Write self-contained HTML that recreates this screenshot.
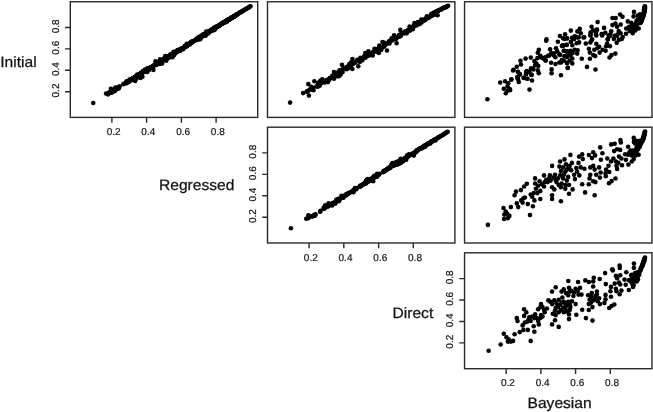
<!DOCTYPE html>
<html><head><meta charset="utf-8"><title>Scatterplot matrix</title>
<style>
html,body{margin:0;padding:0;background:#fff;}
body{width:653px;height:412px;overflow:hidden;}
svg text{text-rendering:geometricPrecision;font-family:"Liberation Sans",Arial,Helvetica,sans-serif;fill:#111;stroke:#111;stroke-width:0.25px;}
.t{font-size:10px;stroke-width:0.2px;}
.l{font-size:15px;}
</style></head><body>
<svg width="653" height="412" viewBox="0 0 653 412" style="display:block">
<rect width="653" height="412" fill="#fff"/>
<g fill="#000"><circle cx="93.2" cy="103.0" r="2.3"/><circle cx="127.4" cy="82.5" r="2.3"/><circle cx="123.4" cy="84.3" r="2.3"/><circle cx="127.0" cy="82.5" r="2.3"/><circle cx="126.3" cy="83.1" r="2.3"/><circle cx="126.6" cy="81.3" r="2.3"/><circle cx="131.1" cy="79.9" r="2.3"/><circle cx="135.1" cy="80.9" r="2.3"/><circle cx="129.3" cy="81.0" r="2.3"/><circle cx="130.0" cy="79.8" r="2.3"/><circle cx="132.6" cy="79.2" r="2.3"/><circle cx="131.1" cy="79.6" r="2.3"/><circle cx="131.4" cy="79.8" r="2.3"/><circle cx="126.3" cy="83.2" r="2.3"/><circle cx="129.8" cy="80.8" r="2.3"/><circle cx="123.7" cy="83.7" r="2.3"/><circle cx="126.2" cy="82.8" r="2.3"/><circle cx="119.5" cy="86.2" r="2.3"/><circle cx="116.5" cy="89.1" r="2.3"/><circle cx="117.2" cy="87.9" r="2.3"/><circle cx="115.5" cy="87.6" r="2.3"/><circle cx="116.6" cy="88.8" r="2.3"/><circle cx="117.8" cy="88.7" r="2.3"/><circle cx="118.5" cy="88.0" r="2.3"/><circle cx="115.2" cy="89.4" r="2.3"/><circle cx="116.3" cy="89.1" r="2.3"/><circle cx="113.5" cy="90.6" r="2.3"/><circle cx="115.7" cy="89.1" r="2.3"/><circle cx="110.2" cy="92.6" r="2.3"/><circle cx="114.7" cy="90.1" r="2.3"/><circle cx="118.0" cy="87.9" r="2.3"/><circle cx="115.2" cy="89.5" r="2.3"/><circle cx="116.9" cy="88.5" r="2.3"/><circle cx="108.2" cy="93.2" r="2.3"/><circle cx="108.3" cy="94.1" r="2.3"/><circle cx="107.9" cy="94.1" r="2.3"/><circle cx="107.6" cy="94.1" r="2.3"/><circle cx="113.5" cy="90.6" r="2.3"/><circle cx="115.1" cy="89.5" r="2.3"/><circle cx="111.3" cy="92.1" r="2.3"/><circle cx="112.8" cy="91.5" r="2.3"/><circle cx="115.2" cy="89.6" r="2.3"/><circle cx="115.8" cy="89.5" r="2.3"/><circle cx="119.1" cy="88.1" r="2.3"/><circle cx="111.6" cy="91.8" r="2.3"/><circle cx="128.7" cy="82.0" r="2.3"/><circle cx="128.0" cy="81.8" r="2.3"/><circle cx="127.3" cy="82.0" r="2.3"/><circle cx="125.9" cy="82.8" r="2.3"/><circle cx="134.8" cy="77.4" r="2.3"/><circle cx="134.8" cy="77.5" r="2.3"/><circle cx="132.8" cy="78.8" r="2.3"/><circle cx="134.9" cy="77.4" r="2.3"/><circle cx="132.2" cy="79.3" r="2.3"/><circle cx="133.7" cy="78.1" r="2.3"/><circle cx="128.4" cy="81.2" r="2.3"/><circle cx="133.2" cy="78.6" r="2.3"/><circle cx="139.7" cy="74.4" r="2.3"/><circle cx="137.2" cy="76.3" r="2.3"/><circle cx="140.5" cy="78.0" r="2.3"/><circle cx="132.6" cy="78.9" r="2.3"/><circle cx="132.4" cy="79.3" r="2.3"/><circle cx="133.5" cy="78.3" r="2.3"/><circle cx="134.3" cy="78.8" r="2.3"/><circle cx="129.5" cy="79.6" r="2.3"/><circle cx="135.9" cy="76.0" r="2.3"/><circle cx="133.8" cy="78.3" r="2.3"/><circle cx="129.6" cy="80.5" r="2.3"/><circle cx="132.6" cy="78.9" r="2.3"/><circle cx="132.8" cy="78.2" r="2.3"/><circle cx="128.0" cy="81.8" r="2.3"/><circle cx="141.3" cy="73.4" r="2.3"/><circle cx="140.3" cy="74.6" r="2.3"/><circle cx="139.7" cy="74.9" r="2.3"/><circle cx="137.3" cy="76.0" r="2.3"/><circle cx="139.4" cy="74.7" r="2.3"/><circle cx="142.4" cy="76.7" r="2.3"/><circle cx="144.1" cy="72.0" r="2.3"/><circle cx="148.9" cy="70.1" r="2.3"/><circle cx="145.4" cy="70.5" r="2.3"/><circle cx="142.9" cy="71.1" r="2.3"/><circle cx="145.5" cy="71.0" r="2.3"/><circle cx="144.9" cy="71.5" r="2.3"/><circle cx="193.8" cy="40.8" r="2.3"/><circle cx="190.7" cy="42.8" r="2.3"/><circle cx="192.6" cy="41.8" r="2.3"/><circle cx="197.6" cy="39.3" r="2.3"/><circle cx="179.5" cy="49.8" r="2.3"/><circle cx="178.8" cy="50.4" r="2.3"/><circle cx="175.8" cy="52.7" r="2.3"/><circle cx="170.6" cy="54.4" r="2.3"/><circle cx="183.1" cy="49.3" r="2.3"/><circle cx="179.2" cy="50.5" r="2.3"/><circle cx="182.2" cy="48.3" r="2.3"/><circle cx="187.1" cy="45.6" r="2.3"/><circle cx="185.9" cy="45.9" r="2.3"/><circle cx="186.2" cy="45.3" r="2.3"/><circle cx="188.0" cy="44.9" r="2.3"/><circle cx="189.7" cy="44.6" r="2.3"/><circle cx="167.6" cy="57.6" r="2.3"/><circle cx="166.4" cy="58.2" r="2.3"/><circle cx="165.6" cy="58.6" r="2.3"/><circle cx="160.1" cy="59.2" r="2.3"/><circle cx="166.3" cy="60.8" r="2.3"/><circle cx="162.0" cy="61.1" r="2.3"/><circle cx="155.9" cy="64.5" r="2.3"/><circle cx="156.0" cy="64.8" r="2.3"/><circle cx="152.4" cy="66.7" r="2.3"/><circle cx="150.9" cy="67.8" r="2.3"/><circle cx="153.4" cy="69.9" r="2.3"/><circle cx="146.4" cy="70.5" r="2.3"/><circle cx="147.2" cy="71.9" r="2.3"/><circle cx="140.7" cy="73.8" r="2.3"/><circle cx="139.7" cy="74.3" r="2.3"/><circle cx="140.1" cy="74.6" r="2.3"/><circle cx="136.2" cy="77.3" r="2.3"/><circle cx="132.7" cy="79.1" r="2.3"/><circle cx="137.0" cy="76.1" r="2.3"/><circle cx="136.3" cy="77.8" r="2.3"/><circle cx="131.5" cy="79.2" r="2.3"/><circle cx="133.3" cy="78.1" r="2.3"/><circle cx="131.3" cy="80.0" r="2.3"/><circle cx="132.2" cy="79.1" r="2.3"/><circle cx="144.0" cy="71.9" r="2.3"/><circle cx="141.4" cy="72.6" r="2.3"/><circle cx="140.3" cy="74.3" r="2.3"/><circle cx="139.3" cy="74.9" r="2.3"/><circle cx="133.7" cy="77.7" r="2.3"/><circle cx="139.9" cy="76.7" r="2.3"/><circle cx="135.0" cy="77.2" r="2.3"/><circle cx="129.9" cy="80.6" r="2.3"/><circle cx="136.3" cy="78.7" r="2.3"/><circle cx="136.1" cy="76.5" r="2.3"/><circle cx="140.9" cy="76.2" r="2.3"/><circle cx="130.3" cy="80.1" r="2.3"/><circle cx="139.0" cy="74.8" r="2.3"/><circle cx="141.9" cy="73.7" r="2.3"/><circle cx="140.2" cy="74.8" r="2.3"/><circle cx="139.6" cy="74.2" r="2.3"/><circle cx="147.4" cy="68.4" r="2.3"/><circle cx="150.3" cy="68.0" r="2.3"/><circle cx="148.2" cy="69.4" r="2.3"/><circle cx="146.1" cy="70.8" r="2.3"/><circle cx="161.7" cy="61.1" r="2.3"/><circle cx="162.6" cy="60.6" r="2.3"/><circle cx="157.1" cy="63.5" r="2.3"/><circle cx="156.2" cy="64.2" r="2.3"/><circle cx="152.8" cy="66.0" r="2.3"/><circle cx="153.2" cy="66.0" r="2.3"/><circle cx="145.6" cy="70.4" r="2.3"/><circle cx="144.1" cy="71.9" r="2.3"/><circle cx="140.6" cy="73.3" r="2.3"/><circle cx="139.5" cy="74.3" r="2.3"/><circle cx="167.2" cy="58.1" r="2.3"/><circle cx="169.9" cy="56.7" r="2.3"/><circle cx="170.4" cy="55.7" r="2.3"/><circle cx="165.6" cy="58.3" r="2.3"/><circle cx="165.4" cy="58.1" r="2.3"/><circle cx="164.5" cy="58.7" r="2.3"/><circle cx="172.6" cy="57.2" r="2.3"/><circle cx="164.8" cy="59.2" r="2.3"/><circle cx="162.7" cy="60.6" r="2.3"/><circle cx="158.8" cy="62.6" r="2.3"/><circle cx="170.2" cy="55.7" r="2.3"/><circle cx="168.9" cy="56.9" r="2.3"/><circle cx="175.1" cy="53.2" r="2.3"/><circle cx="178.0" cy="50.9" r="2.3"/><circle cx="172.3" cy="55.2" r="2.3"/><circle cx="168.5" cy="56.9" r="2.3"/><circle cx="166.8" cy="57.2" r="2.3"/><circle cx="164.7" cy="57.6" r="2.3"/><circle cx="173.6" cy="51.8" r="2.3"/><circle cx="179.4" cy="50.2" r="2.3"/><circle cx="173.1" cy="54.2" r="2.3"/><circle cx="176.4" cy="51.5" r="2.3"/><circle cx="178.0" cy="50.8" r="2.3"/><circle cx="178.8" cy="50.4" r="2.3"/><circle cx="170.4" cy="56.2" r="2.3"/><circle cx="170.8" cy="55.7" r="2.3"/><circle cx="174.3" cy="52.7" r="2.3"/><circle cx="172.6" cy="54.2" r="2.3"/><circle cx="159.6" cy="62.7" r="2.3"/><circle cx="157.4" cy="63.5" r="2.3"/><circle cx="159.1" cy="64.0" r="2.3"/><circle cx="150.5" cy="67.2" r="2.3"/><circle cx="159.5" cy="62.5" r="2.3"/><circle cx="157.2" cy="63.6" r="2.3"/><circle cx="162.4" cy="60.6" r="2.3"/><circle cx="155.5" cy="61.2" r="2.3"/><circle cx="156.7" cy="63.0" r="2.3"/><circle cx="159.5" cy="62.3" r="2.3"/><circle cx="150.3" cy="67.9" r="2.3"/><circle cx="152.8" cy="66.5" r="2.3"/><circle cx="148.1" cy="69.4" r="2.3"/><circle cx="146.5" cy="70.4" r="2.3"/><circle cx="140.6" cy="73.3" r="2.3"/><circle cx="139.3" cy="74.7" r="2.3"/><circle cx="138.8" cy="75.3" r="2.3"/><circle cx="141.2" cy="75.6" r="2.3"/><circle cx="137.2" cy="74.6" r="2.3"/><circle cx="134.9" cy="77.7" r="2.3"/><circle cx="198.9" cy="38.9" r="2.3"/><circle cx="197.0" cy="39.0" r="2.3"/><circle cx="198.0" cy="38.4" r="2.3"/><circle cx="200.4" cy="37.1" r="2.3"/><circle cx="199.4" cy="37.9" r="2.3"/><circle cx="199.2" cy="39.2" r="2.3"/><circle cx="199.4" cy="37.5" r="2.3"/><circle cx="199.2" cy="37.5" r="2.3"/><circle cx="199.3" cy="37.5" r="2.3"/><circle cx="201.9" cy="36.5" r="2.3"/><circle cx="191.5" cy="41.9" r="2.3"/><circle cx="192.3" cy="41.6" r="2.3"/><circle cx="190.3" cy="43.3" r="2.3"/><circle cx="192.7" cy="41.3" r="2.3"/><circle cx="191.6" cy="42.4" r="2.3"/><circle cx="189.6" cy="43.8" r="2.3"/><circle cx="187.1" cy="45.3" r="2.3"/><circle cx="184.9" cy="46.6" r="2.3"/><circle cx="187.1" cy="45.3" r="2.3"/><circle cx="189.9" cy="43.4" r="2.3"/><circle cx="187.7" cy="44.8" r="2.3"/><circle cx="187.3" cy="45.3" r="2.3"/><circle cx="189.7" cy="43.6" r="2.3"/><circle cx="190.7" cy="42.8" r="2.3"/><circle cx="195.9" cy="39.9" r="2.3"/><circle cx="194.5" cy="40.7" r="2.3"/><circle cx="191.1" cy="42.4" r="2.3"/><circle cx="190.5" cy="43.1" r="2.3"/><circle cx="189.8" cy="43.8" r="2.3"/><circle cx="185.7" cy="46.3" r="2.3"/><circle cx="185.9" cy="46.8" r="2.3"/><circle cx="184.6" cy="46.6" r="2.3"/><circle cx="181.4" cy="48.7" r="2.3"/><circle cx="183.9" cy="47.5" r="2.3"/><circle cx="179.7" cy="49.7" r="2.3"/><circle cx="183.9" cy="48.0" r="2.3"/><circle cx="182.0" cy="48.2" r="2.3"/><circle cx="179.3" cy="49.9" r="2.3"/><circle cx="180.0" cy="49.7" r="2.3"/><circle cx="177.6" cy="50.0" r="2.3"/><circle cx="175.1" cy="52.6" r="2.3"/><circle cx="172.5" cy="54.6" r="2.3"/><circle cx="175.6" cy="52.6" r="2.3"/><circle cx="176.6" cy="51.9" r="2.3"/><circle cx="171.5" cy="55.1" r="2.3"/><circle cx="170.0" cy="55.7" r="2.3"/><circle cx="165.5" cy="56.1" r="2.3"/><circle cx="166.8" cy="57.0" r="2.3"/><circle cx="165.2" cy="58.8" r="2.3"/><circle cx="163.8" cy="59.3" r="2.3"/><circle cx="165.3" cy="58.8" r="2.3"/><circle cx="166.7" cy="58.5" r="2.3"/><circle cx="152.3" cy="66.9" r="2.3"/><circle cx="154.3" cy="64.9" r="2.3"/><circle cx="145.0" cy="69.5" r="2.3"/><circle cx="152.7" cy="67.3" r="2.3"/><circle cx="166.8" cy="57.5" r="2.3"/><circle cx="165.3" cy="56.4" r="2.3"/><circle cx="174.1" cy="55.1" r="2.3"/><circle cx="174.9" cy="53.5" r="2.3"/><circle cx="173.6" cy="53.6" r="2.3"/><circle cx="173.5" cy="54.0" r="2.3"/><circle cx="180.2" cy="50.7" r="2.3"/><circle cx="178.8" cy="50.4" r="2.3"/><circle cx="187.0" cy="46.3" r="2.3"/><circle cx="186.0" cy="46.0" r="2.3"/><circle cx="189.6" cy="43.8" r="2.3"/><circle cx="186.7" cy="43.9" r="2.3"/><circle cx="185.0" cy="46.3" r="2.3"/><circle cx="186.5" cy="45.1" r="2.3"/><circle cx="196.5" cy="39.4" r="2.3"/><circle cx="199.1" cy="37.8" r="2.3"/><circle cx="197.1" cy="38.9" r="2.3"/><circle cx="196.3" cy="39.5" r="2.3"/><circle cx="191.5" cy="42.8" r="2.3"/><circle cx="192.5" cy="41.8" r="2.3"/><circle cx="195.9" cy="39.9" r="2.3"/><circle cx="192.5" cy="42.0" r="2.3"/><circle cx="198.5" cy="38.9" r="2.3"/><circle cx="199.6" cy="36.7" r="2.3"/><circle cx="201.1" cy="37.0" r="2.3"/><circle cx="202.0" cy="35.7" r="2.3"/><circle cx="179.5" cy="50.7" r="2.3"/><circle cx="176.1" cy="52.1" r="2.3"/><circle cx="177.3" cy="51.2" r="2.3"/><circle cx="173.2" cy="53.8" r="2.3"/><circle cx="178.2" cy="50.7" r="2.3"/><circle cx="178.9" cy="50.4" r="2.3"/><circle cx="179.6" cy="49.7" r="2.3"/><circle cx="182.5" cy="49.1" r="2.3"/><circle cx="178.3" cy="50.2" r="2.3"/><circle cx="178.0" cy="51.1" r="2.3"/><circle cx="173.2" cy="53.6" r="2.3"/><circle cx="175.9" cy="51.7" r="2.3"/><circle cx="174.4" cy="53.1" r="2.3"/><circle cx="169.1" cy="56.7" r="2.3"/><circle cx="172.0" cy="54.1" r="2.3"/><circle cx="171.4" cy="55.6" r="2.3"/><circle cx="169.2" cy="56.1" r="2.3"/><circle cx="168.4" cy="57.2" r="2.3"/><circle cx="167.9" cy="57.1" r="2.3"/><circle cx="166.5" cy="57.3" r="2.3"/><circle cx="165.4" cy="58.5" r="2.3"/><circle cx="166.3" cy="59.2" r="2.3"/><circle cx="162.2" cy="60.5" r="2.3"/><circle cx="161.3" cy="60.6" r="2.3"/><circle cx="159.1" cy="62.9" r="2.3"/><circle cx="160.6" cy="61.4" r="2.3"/><circle cx="162.1" cy="63.4" r="2.3"/><circle cx="160.8" cy="63.8" r="2.3"/><circle cx="162.8" cy="60.0" r="2.3"/><circle cx="160.2" cy="61.7" r="2.3"/><circle cx="158.1" cy="62.5" r="2.3"/><circle cx="156.7" cy="64.5" r="2.3"/><circle cx="150.4" cy="67.8" r="2.3"/><circle cx="145.3" cy="71.3" r="2.3"/><circle cx="203.3" cy="35.5" r="2.3"/><circle cx="205.7" cy="33.9" r="2.3"/><circle cx="202.9" cy="35.5" r="2.3"/><circle cx="202.8" cy="35.6" r="2.3"/><circle cx="203.0" cy="35.5" r="2.3"/><circle cx="203.7" cy="34.9" r="2.3"/><circle cx="201.9" cy="36.0" r="2.3"/><circle cx="206.1" cy="33.8" r="2.3"/><circle cx="202.2" cy="36.0" r="2.3"/><circle cx="202.2" cy="36.2" r="2.3"/><circle cx="224.5" cy="22.1" r="2.3"/><circle cx="226.3" cy="20.8" r="2.3"/><circle cx="216.0" cy="26.7" r="2.3"/><circle cx="219.1" cy="25.8" r="2.3"/><circle cx="214.7" cy="27.9" r="2.3"/><circle cx="217.5" cy="26.1" r="2.3"/><circle cx="212.1" cy="29.9" r="2.3"/><circle cx="208.2" cy="32.1" r="2.3"/><circle cx="211.4" cy="30.4" r="2.3"/><circle cx="211.7" cy="29.9" r="2.3"/><circle cx="207.2" cy="32.4" r="2.3"/><circle cx="208.4" cy="32.2" r="2.3"/><circle cx="204.1" cy="34.8" r="2.3"/><circle cx="205.6" cy="35.7" r="2.3"/><circle cx="203.2" cy="34.3" r="2.3"/><circle cx="203.8" cy="34.7" r="2.3"/><circle cx="204.7" cy="34.3" r="2.3"/><circle cx="206.9" cy="33.0" r="2.3"/><circle cx="207.3" cy="32.8" r="2.3"/><circle cx="209.0" cy="31.4" r="2.3"/><circle cx="213.5" cy="28.9" r="2.3"/><circle cx="206.3" cy="31.6" r="2.3"/><circle cx="209.5" cy="31.4" r="2.3"/><circle cx="212.6" cy="30.4" r="2.3"/><circle cx="205.4" cy="33.3" r="2.3"/><circle cx="209.9" cy="31.1" r="2.3"/><circle cx="211.0" cy="30.6" r="2.3"/><circle cx="207.9" cy="31.8" r="2.3"/><circle cx="205.0" cy="34.3" r="2.3"/><circle cx="206.6" cy="33.4" r="2.3"/><circle cx="202.3" cy="36.0" r="2.3"/><circle cx="202.7" cy="35.1" r="2.3"/><circle cx="198.0" cy="38.2" r="2.3"/><circle cx="200.4" cy="38.3" r="2.3"/><circle cx="198.1" cy="38.2" r="2.3"/><circle cx="200.0" cy="37.3" r="2.3"/><circle cx="197.7" cy="37.7" r="2.3"/><circle cx="199.1" cy="37.8" r="2.3"/><circle cx="201.8" cy="36.3" r="2.3"/><circle cx="201.4" cy="36.0" r="2.3"/><circle cx="200.2" cy="37.3" r="2.3"/><circle cx="198.8" cy="37.7" r="2.3"/><circle cx="200.5" cy="37.3" r="2.3"/><circle cx="199.5" cy="37.3" r="2.3"/><circle cx="200.2" cy="39.2" r="2.3"/><circle cx="199.4" cy="37.9" r="2.3"/><circle cx="197.2" cy="39.2" r="2.3"/><circle cx="197.5" cy="38.5" r="2.3"/><circle cx="197.4" cy="39.2" r="2.3"/><circle cx="197.2" cy="38.8" r="2.3"/><circle cx="203.2" cy="35.3" r="2.3"/><circle cx="202.0" cy="36.2" r="2.3"/><circle cx="165.6" cy="58.2" r="2.3"/><circle cx="169.3" cy="57.2" r="2.3"/><circle cx="167.4" cy="57.1" r="2.3"/><circle cx="169.7" cy="57.3" r="2.3"/><circle cx="174.0" cy="53.4" r="2.3"/><circle cx="175.7" cy="52.1" r="2.3"/><circle cx="176.2" cy="51.2" r="2.3"/><circle cx="180.4" cy="49.9" r="2.3"/><circle cx="149.3" cy="68.5" r="2.3"/><circle cx="151.1" cy="67.5" r="2.3"/><circle cx="144.3" cy="71.8" r="2.3"/><circle cx="140.1" cy="74.3" r="2.3"/><circle cx="155.9" cy="65.1" r="2.3"/><circle cx="156.3" cy="64.5" r="2.3"/><circle cx="177.7" cy="51.5" r="2.3"/><circle cx="176.8" cy="51.9" r="2.3"/><circle cx="186.4" cy="46.0" r="2.3"/><circle cx="185.1" cy="46.3" r="2.3"/><circle cx="196.8" cy="39.1" r="2.3"/><circle cx="197.8" cy="38.9" r="2.3"/><circle cx="171.5" cy="55.6" r="2.3"/><circle cx="169.7" cy="56.0" r="2.3"/><circle cx="161.6" cy="60.7" r="2.3"/><circle cx="158.1" cy="62.6" r="2.3"/><circle cx="163.4" cy="60.3" r="2.3"/><circle cx="163.8" cy="59.8" r="2.3"/><circle cx="169.6" cy="55.6" r="2.3"/><circle cx="169.5" cy="56.1" r="2.3"/><circle cx="171.2" cy="54.9" r="2.3"/><circle cx="167.2" cy="57.3" r="2.3"/><circle cx="241.4" cy="11.9" r="2.3"/><circle cx="234.0" cy="16.4" r="2.3"/><circle cx="237.1" cy="14.5" r="2.3"/><circle cx="234.2" cy="16.8" r="2.3"/><circle cx="231.9" cy="17.7" r="2.3"/><circle cx="231.3" cy="18.0" r="2.3"/><circle cx="232.4" cy="17.4" r="2.3"/><circle cx="231.0" cy="18.1" r="2.3"/><circle cx="234.3" cy="16.3" r="2.3"/><circle cx="225.9" cy="21.4" r="2.3"/><circle cx="226.6" cy="21.0" r="2.3"/><circle cx="224.4" cy="22.7" r="2.3"/><circle cx="222.6" cy="23.3" r="2.3"/><circle cx="222.3" cy="23.5" r="2.3"/><circle cx="221.4" cy="23.6" r="2.3"/><circle cx="220.2" cy="25.1" r="2.3"/><circle cx="220.5" cy="24.1" r="2.3"/><circle cx="220.7" cy="24.5" r="2.3"/><circle cx="218.0" cy="26.1" r="2.3"/><circle cx="217.0" cy="26.8" r="2.3"/><circle cx="219.3" cy="25.3" r="2.3"/><circle cx="214.2" cy="28.5" r="2.3"/><circle cx="214.0" cy="28.5" r="2.3"/><circle cx="217.1" cy="26.9" r="2.3"/><circle cx="216.9" cy="27.1" r="2.3"/><circle cx="218.6" cy="26.0" r="2.3"/><circle cx="219.4" cy="25.2" r="2.3"/><circle cx="219.6" cy="25.1" r="2.3"/><circle cx="219.0" cy="25.4" r="2.3"/><circle cx="214.3" cy="28.5" r="2.3"/><circle cx="214.7" cy="29.2" r="2.3"/><circle cx="214.4" cy="28.7" r="2.3"/><circle cx="215.8" cy="27.3" r="2.3"/><circle cx="213.7" cy="29.6" r="2.3"/><circle cx="215.9" cy="27.5" r="2.3"/><circle cx="206.8" cy="33.2" r="2.3"/><circle cx="208.3" cy="33.4" r="2.3"/><circle cx="206.7" cy="33.7" r="2.3"/><circle cx="205.4" cy="33.5" r="2.3"/><circle cx="210.1" cy="31.0" r="2.3"/><circle cx="211.2" cy="29.9" r="2.3"/><circle cx="206.1" cy="33.2" r="2.3"/><circle cx="208.9" cy="31.8" r="2.3"/><circle cx="209.6" cy="31.4" r="2.3"/><circle cx="212.9" cy="29.4" r="2.3"/><circle cx="204.6" cy="34.6" r="2.3"/><circle cx="205.0" cy="34.1" r="2.3"/><circle cx="206.1" cy="34.1" r="2.3"/><circle cx="206.8" cy="32.5" r="2.3"/><circle cx="212.6" cy="29.6" r="2.3"/><circle cx="216.1" cy="27.3" r="2.3"/><circle cx="208.1" cy="32.3" r="2.3"/><circle cx="208.3" cy="31.8" r="2.3"/><circle cx="201.2" cy="35.9" r="2.3"/><circle cx="204.9" cy="34.4" r="2.3"/><circle cx="204.4" cy="34.6" r="2.3"/><circle cx="204.1" cy="35.4" r="2.3"/><circle cx="235.2" cy="15.6" r="2.3"/><circle cx="237.0" cy="14.4" r="2.3"/><circle cx="230.4" cy="18.5" r="2.3"/><circle cx="226.6" cy="20.9" r="2.3"/><circle cx="231.4" cy="17.9" r="2.3"/><circle cx="229.8" cy="18.8" r="2.3"/><circle cx="225.9" cy="20.8" r="2.3"/><circle cx="229.5" cy="19.2" r="2.3"/><circle cx="225.8" cy="21.4" r="2.3"/><circle cx="228.7" cy="19.6" r="2.3"/><circle cx="221.9" cy="23.7" r="2.3"/><circle cx="222.5" cy="23.4" r="2.3"/><circle cx="220.1" cy="24.9" r="2.3"/><circle cx="217.2" cy="26.5" r="2.3"/><circle cx="218.8" cy="26.1" r="2.3"/><circle cx="220.0" cy="25.1" r="2.3"/><circle cx="215.5" cy="27.8" r="2.3"/><circle cx="214.3" cy="27.6" r="2.3"/><circle cx="214.9" cy="28.4" r="2.3"/><circle cx="219.3" cy="25.6" r="2.3"/><circle cx="217.4" cy="26.6" r="2.3"/><circle cx="213.9" cy="28.0" r="2.3"/><circle cx="211.7" cy="30.1" r="2.3"/><circle cx="214.4" cy="30.0" r="2.3"/><circle cx="210.2" cy="31.0" r="2.3"/><circle cx="210.2" cy="31.5" r="2.3"/><circle cx="212.0" cy="30.4" r="2.3"/><circle cx="210.7" cy="30.6" r="2.3"/><circle cx="228.4" cy="19.8" r="2.3"/><circle cx="231.4" cy="17.9" r="2.3"/><circle cx="234.2" cy="16.2" r="2.3"/><circle cx="224.1" cy="22.4" r="2.3"/><circle cx="224.3" cy="22.3" r="2.3"/><circle cx="223.0" cy="23.0" r="2.3"/><circle cx="222.3" cy="23.7" r="2.3"/><circle cx="250.5" cy="6.2" r="2.3"/><circle cx="249.5" cy="6.7" r="2.3"/><circle cx="249.0" cy="7.2" r="2.3"/><circle cx="248.3" cy="7.7" r="2.3"/><circle cx="247.2" cy="8.2" r="2.3"/><circle cx="246.3" cy="8.7" r="2.3"/><circle cx="245.5" cy="9.3" r="2.3"/><circle cx="244.5" cy="9.8" r="2.3"/><circle cx="243.9" cy="10.3" r="2.3"/><circle cx="242.8" cy="10.8" r="2.3"/><circle cx="242.3" cy="11.3" r="2.3"/><circle cx="241.6" cy="11.8" r="2.3"/><circle cx="239.8" cy="12.3" r="2.3"/><circle cx="239.9" cy="12.8" r="2.3"/><circle cx="239.1" cy="13.3" r="2.3"/><circle cx="238.1" cy="13.8" r="2.3"/><circle cx="237.4" cy="14.3" r="2.3"/><circle cx="236.5" cy="14.9" r="2.3"/><circle cx="235.8" cy="15.4" r="2.3"/><circle cx="234.5" cy="15.9" r="2.3"/><circle cx="234.1" cy="16.4" r="2.3"/><circle cx="233.1" cy="16.9" r="2.3"/><circle cx="234.2" cy="16.4" r="2.3"/><circle cx="232.5" cy="17.4" r="2.3"/><circle cx="232.2" cy="17.4" r="2.3"/><circle cx="231.6" cy="17.9" r="2.3"/><circle cx="233.4" cy="16.7" r="2.3"/><circle cx="230.9" cy="18.4" r="2.3"/><circle cx="227.1" cy="20.4" r="2.3"/><circle cx="230.1" cy="18.9" r="2.3"/><circle cx="233.1" cy="16.9" r="2.3"/><circle cx="229.0" cy="19.4" r="2.3"/><circle cx="229.8" cy="19.0" r="2.3"/><circle cx="227.5" cy="19.9" r="2.3"/><circle cx="226.7" cy="20.9" r="2.3"/><circle cx="227.5" cy="20.5" r="2.3"/><circle cx="227.0" cy="21.4" r="2.3"/><circle cx="226.8" cy="21.0" r="2.3"/><circle cx="229.0" cy="19.5" r="2.3"/><circle cx="225.8" cy="21.5" r="2.3"/><circle cx="229.2" cy="19.5" r="2.3"/><circle cx="223.6" cy="22.0" r="2.3"/><circle cx="228.0" cy="20.1" r="2.3"/><circle cx="223.9" cy="22.5" r="2.3"/><circle cx="225.4" cy="21.9" r="2.3"/><circle cx="223.0" cy="23.0" r="2.3"/><circle cx="223.4" cy="22.8" r="2.3"/><circle cx="106.1" cy="93.5" r="2.3"/><circle cx="110.9" cy="88.7" r="2.3"/><circle cx="111.6" cy="92.7" r="2.3"/><circle cx="109.4" cy="92.4" r="2.3"/><circle cx="114.6" cy="91.3" r="2.3"/><circle cx="115.3" cy="88.3" r="2.3"/></g>
<rect x="70.3" y="1.75" width="187.4" height="115.65" fill="none" stroke="#2a2a2a" stroke-width="1.4"/>
<path d="M111.9 117.4v5.3 M70.3 91.7h-5.3 M146.6 117.4v5.3 M70.3 70.3h-5.3 M181.4 117.4v5.3 M70.3 48.9h-5.3 M216.1 117.4v5.3 M70.3 27.5h-5.3" stroke="#2a2a2a" stroke-width="1.4" fill="none"/>
<text transform="translate(113.6 134.9) scale(1.0 1)" text-anchor="middle" class="t">0.2</text>
<text transform="translate(58.8 90.5) rotate(-90) scale(1.0 1)" text-anchor="middle" class="t">0.2</text>
<text transform="translate(148.3 134.9) scale(1.0 1)" text-anchor="middle" class="t">0.4</text>
<text transform="translate(58.8 69.1) rotate(-90) scale(1.0 1)" text-anchor="middle" class="t">0.4</text>
<text transform="translate(183.1 134.9) scale(1.0 1)" text-anchor="middle" class="t">0.6</text>
<text transform="translate(58.8 47.7) rotate(-90) scale(1.0 1)" text-anchor="middle" class="t">0.6</text>
<text transform="translate(217.8 134.9) scale(1.0 1)" text-anchor="middle" class="t">0.8</text>
<text transform="translate(58.8 26.3) rotate(-90) scale(1.0 1)" text-anchor="middle" class="t">0.8</text>
<g fill="#000"><circle cx="290.1" cy="102.6" r="2.3"/><circle cx="303.1" cy="93.1" r="2.3"/><circle cx="308.9" cy="95.6" r="2.3"/><circle cx="307.6" cy="91.7" r="2.3"/><circle cx="311.9" cy="89.8" r="2.3"/><circle cx="311.3" cy="86.8" r="2.3"/><circle cx="308.3" cy="84.1" r="2.3"/><circle cx="314.4" cy="81.2" r="2.3"/><circle cx="318.1" cy="84.3" r="2.3"/><circle cx="320.5" cy="80.6" r="2.3"/><circle cx="322.3" cy="79.4" r="2.3"/><circle cx="318.7" cy="82.5" r="2.3"/><circle cx="325.4" cy="81.2" r="2.3"/><circle cx="327.9" cy="82.1" r="2.3"/><circle cx="329.1" cy="80.0" r="2.3"/><circle cx="331.5" cy="77.6" r="2.3"/><circle cx="334.0" cy="72.1" r="2.3"/><circle cx="335.2" cy="74.5" r="2.3"/><circle cx="337.1" cy="76.3" r="2.3"/><circle cx="334.0" cy="78.8" r="2.3"/><circle cx="338.9" cy="76.3" r="2.3"/><circle cx="340.7" cy="74.5" r="2.3"/><circle cx="339.5" cy="70.2" r="2.3"/><circle cx="342.0" cy="64.7" r="2.3"/><circle cx="343.2" cy="68.4" r="2.3"/><circle cx="342.6" cy="72.1" r="2.3"/><circle cx="346.2" cy="67.2" r="2.3"/><circle cx="349.3" cy="64.1" r="2.3"/><circle cx="351.1" cy="62.3" r="2.3"/><circle cx="352.5" cy="59.1" r="2.3"/><circle cx="354.9" cy="62.2" r="2.3"/><circle cx="357.4" cy="59.7" r="2.3"/><circle cx="360.4" cy="57.9" r="2.3"/><circle cx="362.3" cy="60.3" r="2.3"/><circle cx="364.7" cy="56.1" r="2.3"/><circle cx="365.3" cy="53.0" r="2.3"/><circle cx="368.4" cy="51.2" r="2.3"/><circle cx="370.2" cy="54.2" r="2.3"/><circle cx="372.7" cy="55.4" r="2.3"/><circle cx="374.5" cy="48.7" r="2.3"/><circle cx="376.3" cy="51.8" r="2.3"/><circle cx="378.8" cy="53.0" r="2.3"/><circle cx="379.4" cy="45.6" r="2.3"/><circle cx="381.2" cy="49.9" r="2.3"/><circle cx="382.5" cy="42.0" r="2.3"/><circle cx="384.3" cy="45.6" r="2.3"/><circle cx="385.5" cy="43.8" r="2.3"/><circle cx="387.0" cy="50.5" r="2.3"/><circle cx="389.0" cy="41.3" r="2.3"/><circle cx="391.7" cy="38.3" r="2.3"/><circle cx="394.1" cy="35.2" r="2.3"/><circle cx="396.0" cy="38.9" r="2.3"/><circle cx="429.3" cy="17.2" r="2.3"/><circle cx="426.8" cy="16.2" r="2.3"/><circle cx="425.3" cy="20.1" r="2.3"/><circle cx="423.4" cy="21.1" r="2.3"/><circle cx="421.4" cy="19.6" r="2.3"/><circle cx="420.4" cy="23.5" r="2.3"/><circle cx="418.0" cy="22.1" r="2.3"/><circle cx="416.5" cy="25.5" r="2.3"/><circle cx="414.5" cy="23.0" r="2.3"/><circle cx="413.1" cy="27.0" r="2.3"/><circle cx="411.6" cy="28.9" r="2.3"/><circle cx="409.6" cy="26.5" r="2.3"/><circle cx="408.2" cy="29.9" r="2.3"/><circle cx="406.7" cy="33.3" r="2.3"/><circle cx="404.7" cy="31.9" r="2.3"/><circle cx="402.8" cy="33.3" r="2.3"/><circle cx="400.3" cy="29.9" r="2.3"/><circle cx="399.8" cy="35.3" r="2.3"/><circle cx="397.4" cy="36.8" r="2.3"/><circle cx="435.1" cy="14.7" r="2.3"/><circle cx="437.6" cy="15.2" r="2.3"/><circle cx="432.2" cy="15.7" r="2.3"/><circle cx="431.0" cy="14.3" r="2.3"/><circle cx="432.0" cy="13.9" r="2.3"/><circle cx="432.4" cy="13.7" r="2.3"/><circle cx="433.4" cy="13.2" r="2.3"/><circle cx="433.9" cy="12.7" r="2.3"/><circle cx="434.3" cy="12.5" r="2.3"/><circle cx="435.3" cy="12.0" r="2.3"/><circle cx="436.1" cy="11.7" r="2.3"/><circle cx="436.4" cy="11.3" r="2.3"/><circle cx="437.5" cy="11.4" r="2.3"/><circle cx="438.1" cy="11.0" r="2.3"/><circle cx="438.3" cy="10.4" r="2.3"/><circle cx="439.2" cy="10.0" r="2.3"/><circle cx="440.2" cy="9.8" r="2.3"/><circle cx="440.3" cy="9.7" r="2.3"/><circle cx="441.0" cy="9.5" r="2.3"/><circle cx="441.9" cy="8.9" r="2.3"/><circle cx="442.5" cy="8.5" r="2.3"/><circle cx="443.0" cy="7.9" r="2.3"/><circle cx="444.1" cy="7.7" r="2.3"/><circle cx="444.7" cy="7.4" r="2.3"/><circle cx="445.5" cy="7.5" r="2.3"/><circle cx="446.0" cy="7.0" r="2.3"/><circle cx="446.6" cy="6.7" r="2.3"/><circle cx="447.0" cy="6.2" r="2.3"/><circle cx="448.1" cy="5.7" r="2.3"/><circle cx="352.4" cy="69.0" r="2.3"/><circle cx="358.3" cy="66.3" r="2.3"/><circle cx="396.6" cy="43.2" r="2.3"/><circle cx="306.6" cy="91.7" r="2.3"/><circle cx="307.2" cy="91.2" r="2.3"/><circle cx="313.5" cy="90.2" r="2.3"/><circle cx="309.3" cy="89.8" r="2.3"/><circle cx="311.7" cy="88.9" r="2.3"/><circle cx="313.3" cy="88.0" r="2.3"/><circle cx="311.6" cy="87.6" r="2.3"/><circle cx="317.7" cy="86.8" r="2.3"/><circle cx="316.5" cy="86.3" r="2.3"/><circle cx="319.7" cy="85.8" r="2.3"/><circle cx="319.6" cy="84.8" r="2.3"/><circle cx="319.4" cy="83.9" r="2.3"/><circle cx="320.0" cy="83.2" r="2.3"/><circle cx="321.7" cy="83.0" r="2.3"/><circle cx="324.9" cy="82.4" r="2.3"/><circle cx="324.7" cy="81.6" r="2.3"/><circle cx="326.7" cy="80.4" r="2.3"/><circle cx="326.4" cy="80.1" r="2.3"/><circle cx="328.2" cy="79.5" r="2.3"/><circle cx="329.8" cy="78.6" r="2.3"/><circle cx="329.7" cy="78.1" r="2.3"/><circle cx="332.1" cy="77.5" r="2.3"/><circle cx="334.3" cy="76.9" r="2.3"/><circle cx="332.3" cy="75.8" r="2.3"/><circle cx="335.3" cy="75.4" r="2.3"/><circle cx="336.8" cy="74.6" r="2.3"/><circle cx="336.8" cy="74.1" r="2.3"/><circle cx="339.3" cy="73.3" r="2.3"/><circle cx="338.1" cy="72.3" r="2.3"/><circle cx="341.1" cy="71.8" r="2.3"/><circle cx="342.2" cy="71.0" r="2.3"/><circle cx="341.2" cy="70.7" r="2.3"/><circle cx="342.1" cy="69.7" r="2.3"/><circle cx="346.7" cy="69.3" r="2.3"/><circle cx="348.7" cy="68.1" r="2.3"/><circle cx="347.6" cy="67.7" r="2.3"/><circle cx="350.2" cy="67.1" r="2.3"/><circle cx="347.8" cy="66.5" r="2.3"/><circle cx="350.5" cy="65.6" r="2.3"/><circle cx="351.2" cy="65.1" r="2.3"/><circle cx="352.9" cy="64.1" r="2.3"/><circle cx="352.3" cy="63.6" r="2.3"/><circle cx="355.0" cy="62.8" r="2.3"/><circle cx="360.0" cy="61.8" r="2.3"/><circle cx="359.0" cy="61.5" r="2.3"/><circle cx="359.1" cy="60.6" r="2.3"/><circle cx="360.3" cy="60.2" r="2.3"/><circle cx="361.7" cy="59.2" r="2.3"/><circle cx="361.6" cy="58.6" r="2.3"/><circle cx="365.5" cy="57.8" r="2.3"/><circle cx="365.5" cy="57.0" r="2.3"/><circle cx="364.2" cy="56.4" r="2.3"/><circle cx="368.6" cy="55.7" r="2.3"/><circle cx="365.7" cy="55.2" r="2.3"/><circle cx="369.9" cy="54.6" r="2.3"/><circle cx="368.2" cy="53.7" r="2.3"/><circle cx="371.6" cy="53.4" r="2.3"/><circle cx="372.7" cy="52.4" r="2.3"/><circle cx="373.5" cy="51.8" r="2.3"/><circle cx="375.6" cy="50.8" r="2.3"/><circle cx="377.3" cy="50.7" r="2.3"/><circle cx="375.3" cy="49.7" r="2.3"/><circle cx="378.0" cy="48.7" r="2.3"/><circle cx="378.9" cy="48.1" r="2.3"/><circle cx="382.2" cy="47.7" r="2.3"/><circle cx="379.1" cy="47.2" r="2.3"/><circle cx="384.2" cy="46.6" r="2.3"/><circle cx="383.8" cy="45.4" r="2.3"/><circle cx="385.1" cy="45.1" r="2.3"/><circle cx="386.6" cy="44.1" r="2.3"/><circle cx="389.5" cy="43.4" r="2.3"/><circle cx="384.8" cy="42.7" r="2.3"/><circle cx="389.2" cy="42.0" r="2.3"/><circle cx="390.2" cy="41.3" r="2.3"/><circle cx="390.7" cy="40.7" r="2.3"/><circle cx="392.6" cy="40.2" r="2.3"/><circle cx="391.3" cy="39.5" r="2.3"/><circle cx="394.0" cy="38.9" r="2.3"/><circle cx="395.2" cy="38.3" r="2.3"/><circle cx="396.8" cy="37.6" r="2.3"/><circle cx="399.4" cy="36.7" r="2.3"/><circle cx="400.8" cy="36.0" r="2.3"/><circle cx="399.1" cy="35.3" r="2.3"/><circle cx="399.6" cy="34.9" r="2.3"/><circle cx="400.8" cy="34.2" r="2.3"/><circle cx="404.2" cy="33.4" r="2.3"/><circle cx="404.2" cy="32.7" r="2.3"/><circle cx="405.2" cy="31.9" r="2.3"/><circle cx="405.9" cy="31.3" r="2.3"/><circle cx="409.6" cy="30.7" r="2.3"/><circle cx="410.3" cy="30.1" r="2.3"/><circle cx="412.8" cy="29.2" r="2.3"/><circle cx="412.4" cy="28.7" r="2.3"/><circle cx="412.2" cy="27.5" r="2.3"/><circle cx="413.2" cy="27.2" r="2.3"/><circle cx="413.7" cy="26.5" r="2.3"/><circle cx="413.8" cy="25.5" r="2.3"/><circle cx="416.2" cy="25.1" r="2.3"/><circle cx="419.3" cy="24.1" r="2.3"/><circle cx="419.1" cy="23.8" r="2.3"/><circle cx="420.3" cy="23.1" r="2.3"/><circle cx="420.7" cy="22.0" r="2.3"/><circle cx="421.7" cy="21.7" r="2.3"/><circle cx="421.7" cy="20.8" r="2.3"/><circle cx="423.2" cy="20.4" r="2.3"/><circle cx="424.3" cy="19.3" r="2.3"/><circle cx="426.3" cy="18.8" r="2.3"/><circle cx="428.1" cy="17.9" r="2.3"/><circle cx="428.5" cy="17.6" r="2.3"/><circle cx="429.7" cy="17.0" r="2.3"/></g>
<rect x="267.5" y="1.75" width="187.4" height="115.65" fill="none" stroke="#2a2a2a" stroke-width="1.4"/>
<g fill="#000"><circle cx="487.4" cy="99.2" r="2.3"/><circle cx="500.2" cy="82.5" r="2.3"/><circle cx="505.1" cy="81.3" r="2.3"/><circle cx="511.2" cy="79.8" r="2.3"/><circle cx="508.2" cy="83.2" r="2.3"/><circle cx="507.5" cy="86.2" r="2.3"/><circle cx="503.8" cy="88.8" r="2.3"/><circle cx="509.7" cy="89.1" r="2.3"/><circle cx="510.2" cy="90.1" r="2.3"/><circle cx="505.8" cy="93.2" r="2.3"/><circle cx="507.7" cy="90.6" r="2.3"/><circle cx="529.5" cy="89.6" r="2.3"/><circle cx="518.8" cy="82.0" r="2.3"/><circle cx="517.5" cy="77.4" r="2.3"/><circle cx="518.0" cy="79.3" r="2.3"/><circle cx="520.0" cy="74.4" r="2.3"/><circle cx="523.9" cy="78.0" r="2.3"/><circle cx="527.2" cy="78.8" r="2.3"/><circle cx="532.0" cy="80.5" r="2.3"/><circle cx="526.1" cy="73.4" r="2.3"/><circle cx="531.5" cy="74.9" r="2.3"/><circle cx="518.0" cy="72.0" r="2.3"/><circle cx="513.1" cy="70.5" r="2.3"/><circle cx="526.9" cy="71.0" r="2.3"/><circle cx="546.2" cy="40.8" r="2.3"/><circle cx="557.9" cy="41.8" r="2.3"/><circle cx="538.8" cy="49.8" r="2.3"/><circle cx="537.8" cy="52.7" r="2.3"/><circle cx="550.1" cy="49.3" r="2.3"/><circle cx="556.0" cy="48.3" r="2.3"/><circle cx="561.9" cy="45.9" r="2.3"/><circle cx="566.8" cy="44.9" r="2.3"/><circle cx="530.8" cy="57.6" r="2.3"/><circle cx="525.6" cy="58.6" r="2.3"/><circle cx="520.5" cy="60.8" r="2.3"/><circle cx="521.0" cy="64.5" r="2.3"/><circle cx="516.8" cy="66.7" r="2.3"/><circle cx="513.6" cy="69.9" r="2.3"/><circle cx="517.9" cy="71.9" r="2.3"/><circle cx="519.7" cy="74.3" r="2.3"/><circle cx="517.3" cy="77.3" r="2.3"/><circle cx="511.4" cy="79.2" r="2.3"/><circle cx="526.1" cy="71.9" r="2.3"/><circle cx="526.1" cy="74.3" r="2.3"/><circle cx="523.6" cy="77.7" r="2.3"/><circle cx="527.5" cy="78.7" r="2.3"/><circle cx="531.5" cy="74.8" r="2.3"/><circle cx="531.0" cy="68.4" r="2.3"/><circle cx="533.4" cy="69.4" r="2.3"/><circle cx="534.4" cy="61.1" r="2.3"/><circle cx="536.4" cy="63.5" r="2.3"/><circle cx="538.3" cy="66.0" r="2.3"/><circle cx="537.8" cy="70.4" r="2.3"/><circle cx="538.8" cy="73.3" r="2.3"/><circle cx="537.4" cy="58.1" r="2.3"/><circle cx="540.3" cy="55.7" r="2.3"/><circle cx="542.7" cy="58.1" r="2.3"/><circle cx="545.2" cy="57.2" r="2.3"/><circle cx="545.7" cy="60.6" r="2.3"/><circle cx="548.1" cy="55.7" r="2.3"/><circle cx="551.1" cy="53.2" r="2.3"/><circle cx="553.5" cy="55.2" r="2.3"/><circle cx="555.5" cy="57.2" r="2.3"/><circle cx="557.0" cy="51.8" r="2.3"/><circle cx="559.4" cy="54.2" r="2.3"/><circle cx="563.8" cy="50.8" r="2.3"/><circle cx="564.8" cy="56.2" r="2.3"/><circle cx="567.7" cy="52.7" r="2.3"/><circle cx="551.1" cy="62.7" r="2.3"/><circle cx="555.5" cy="64.0" r="2.3"/><circle cx="559.4" cy="62.5" r="2.3"/><circle cx="561.9" cy="60.6" r="2.3"/><circle cx="567.3" cy="63.0" r="2.3"/><circle cx="567.7" cy="67.9" r="2.3"/><circle cx="551.6" cy="69.4" r="2.3"/><circle cx="551.6" cy="73.3" r="2.3"/><circle cx="560.9" cy="75.3" r="2.3"/><circle cx="564.4" cy="38.9" r="2.3"/><circle cx="566.9" cy="38.4" r="2.3"/><circle cx="572.7" cy="37.9" r="2.3"/><circle cx="577.6" cy="37.5" r="2.3"/><circle cx="583.5" cy="37.5" r="2.3"/><circle cx="570.8" cy="41.9" r="2.3"/><circle cx="576.7" cy="43.3" r="2.3"/><circle cx="579.1" cy="42.4" r="2.3"/><circle cx="572.3" cy="45.3" r="2.3"/><circle cx="562.9" cy="45.3" r="2.3"/><circle cx="566.4" cy="44.8" r="2.3"/><circle cx="585.8" cy="43.6" r="2.3"/><circle cx="591.9" cy="39.9" r="2.3"/><circle cx="590.4" cy="42.4" r="2.3"/><circle cx="596.3" cy="43.8" r="2.3"/><circle cx="599.2" cy="46.8" r="2.3"/><circle cx="588.9" cy="48.7" r="2.3"/><circle cx="594.3" cy="49.7" r="2.3"/><circle cx="597.3" cy="48.2" r="2.3"/><circle cx="602.6" cy="49.7" r="2.3"/><circle cx="599.7" cy="52.6" r="2.3"/><circle cx="589.9" cy="52.6" r="2.3"/><circle cx="593.3" cy="55.1" r="2.3"/><circle cx="595.3" cy="56.1" r="2.3"/><circle cx="589.9" cy="58.8" r="2.3"/><circle cx="581.8" cy="58.8" r="2.3"/><circle cx="587.0" cy="66.9" r="2.3"/><circle cx="595.5" cy="69.5" r="2.3"/><circle cx="609.5" cy="57.5" r="2.3"/><circle cx="611.5" cy="55.1" r="2.3"/><circle cx="615.4" cy="53.6" r="2.3"/><circle cx="605.6" cy="50.7" r="2.3"/><circle cx="606.1" cy="46.3" r="2.3"/><circle cx="607.1" cy="43.8" r="2.3"/><circle cx="610.0" cy="46.3" r="2.3"/><circle cx="607.8" cy="39.4" r="2.3"/><circle cx="613.9" cy="38.9" r="2.3"/><circle cx="616.7" cy="42.8" r="2.3"/><circle cx="618.8" cy="39.9" r="2.3"/><circle cx="621.8" cy="38.9" r="2.3"/><circle cx="622.7" cy="37.0" r="2.3"/><circle cx="563.9" cy="50.7" r="2.3"/><circle cx="567.4" cy="51.2" r="2.3"/><circle cx="570.8" cy="50.7" r="2.3"/><circle cx="574.7" cy="49.7" r="2.3"/><circle cx="577.6" cy="50.2" r="2.3"/><circle cx="577.2" cy="53.6" r="2.3"/><circle cx="572.7" cy="53.1" r="2.3"/><circle cx="568.8" cy="54.1" r="2.3"/><circle cx="564.4" cy="56.1" r="2.3"/><circle cx="566.9" cy="57.1" r="2.3"/><circle cx="572.3" cy="58.5" r="2.3"/><circle cx="569.8" cy="60.5" r="2.3"/><circle cx="566.9" cy="62.9" r="2.3"/><circle cx="572.3" cy="63.4" r="2.3"/><circle cx="562.0" cy="60.0" r="2.3"/><circle cx="561.0" cy="62.5" r="2.3"/><circle cx="567.8" cy="67.8" r="2.3"/><circle cx="590.4" cy="35.5" r="2.3"/><circle cx="596.3" cy="35.5" r="2.3"/><circle cx="602.2" cy="35.5" r="2.3"/><circle cx="610.0" cy="36.0" r="2.3"/><circle cx="616.9" cy="36.0" r="2.3"/><circle cx="597.6" cy="22.1" r="2.3"/><circle cx="591.6" cy="26.7" r="2.3"/><circle cx="604.1" cy="27.9" r="2.3"/><circle cx="597.0" cy="29.9" r="2.3"/><circle cx="593.0" cy="30.4" r="2.3"/><circle cx="590.6" cy="32.4" r="2.3"/><circle cx="590.6" cy="34.8" r="2.3"/><circle cx="596.0" cy="34.3" r="2.3"/><circle cx="601.9" cy="34.3" r="2.3"/><circle cx="605.3" cy="32.8" r="2.3"/><circle cx="579.8" cy="28.9" r="2.3"/><circle cx="577.4" cy="31.4" r="2.3"/><circle cx="580.8" cy="33.3" r="2.3"/><circle cx="570.8" cy="30.6" r="2.3"/><circle cx="565.1" cy="34.3" r="2.3"/><circle cx="559.9" cy="36.0" r="2.3"/><circle cx="563.1" cy="38.2" r="2.3"/><circle cx="567.1" cy="38.2" r="2.3"/><circle cx="572.0" cy="37.7" r="2.3"/><circle cx="574.9" cy="36.3" r="2.3"/><circle cx="578.8" cy="37.3" r="2.3"/><circle cx="584.2" cy="37.3" r="2.3"/><circle cx="592.1" cy="39.2" r="2.3"/><circle cx="546.5" cy="39.2" r="2.3"/><circle cx="607.7" cy="39.2" r="2.3"/><circle cx="608.7" cy="35.3" r="2.3"/><circle cx="543.2" cy="58.2" r="2.3"/><circle cx="540.3" cy="57.1" r="2.3"/><circle cx="553.5" cy="53.4" r="2.3"/><circle cx="557.2" cy="51.2" r="2.3"/><circle cx="532.9" cy="68.5" r="2.3"/><circle cx="529.3" cy="71.8" r="2.3"/><circle cx="535.1" cy="65.1" r="2.3"/><circle cx="566.8" cy="51.5" r="2.3"/><circle cx="563.1" cy="46.0" r="2.3"/><circle cx="574.1" cy="39.1" r="2.3"/><circle cx="570.4" cy="55.6" r="2.3"/><circle cx="563.8" cy="60.7" r="2.3"/><circle cx="545.4" cy="60.3" r="2.3"/><circle cx="549.1" cy="55.6" r="2.3"/><circle cx="560.1" cy="54.9" r="2.3"/><circle cx="634.0" cy="11.9" r="2.3"/><circle cx="633.6" cy="16.4" r="2.3"/><circle cx="620.1" cy="14.5" r="2.3"/><circle cx="622.5" cy="16.8" r="2.3"/><circle cx="612.5" cy="18.0" r="2.3"/><circle cx="615.7" cy="18.1" r="2.3"/><circle cx="627.8" cy="21.4" r="2.3"/><circle cx="631.3" cy="22.7" r="2.3"/><circle cx="615.4" cy="23.5" r="2.3"/><circle cx="612.5" cy="25.1" r="2.3"/><circle cx="620.7" cy="24.5" r="2.3"/><circle cx="617.1" cy="26.8" r="2.3"/><circle cx="626.2" cy="28.5" r="2.3"/><circle cx="629.1" cy="26.9" r="2.3"/><circle cx="632.7" cy="26.0" r="2.3"/><circle cx="635.4" cy="25.1" r="2.3"/><circle cx="638.7" cy="28.5" r="2.3"/><circle cx="634.5" cy="28.7" r="2.3"/><circle cx="630.9" cy="29.6" r="2.3"/><circle cx="632.7" cy="33.2" r="2.3"/><circle cx="626.0" cy="33.7" r="2.3"/><circle cx="618.7" cy="31.0" r="2.3"/><circle cx="620.6" cy="33.2" r="2.3"/><circle cx="611.2" cy="31.4" r="2.3"/><circle cx="610.3" cy="34.6" r="2.3"/><circle cx="601.7" cy="34.1" r="2.3"/><circle cx="596.8" cy="29.6" r="2.3"/><circle cx="595.9" cy="32.3" r="2.3"/><circle cx="614.7" cy="35.9" r="2.3"/><circle cx="617.4" cy="34.6" r="2.3"/><circle cx="637.7" cy="15.6" r="2.3"/><circle cx="640.0" cy="14.4" r="2.3"/><circle cx="638.3" cy="18.5" r="2.3"/><circle cx="641.2" cy="17.9" r="2.3"/><circle cx="636.6" cy="20.8" r="2.3"/><circle cx="639.5" cy="21.4" r="2.3"/><circle cx="637.7" cy="23.7" r="2.3"/><circle cx="634.8" cy="24.9" r="2.3"/><circle cx="631.9" cy="26.1" r="2.3"/><circle cx="634.2" cy="27.8" r="2.3"/><circle cx="630.7" cy="28.4" r="2.3"/><circle cx="636.6" cy="26.6" r="2.3"/><circle cx="632.5" cy="30.1" r="2.3"/><circle cx="629.6" cy="31.0" r="2.3"/><circle cx="635.4" cy="30.4" r="2.3"/><circle cx="639.2" cy="19.8" r="2.3"/><circle cx="640.4" cy="16.2" r="2.3"/><circle cx="638.6" cy="22.4" r="2.3"/><circle cx="636.2" cy="23.0" r="2.3"/><circle cx="644.7" cy="6.2" r="2.3"/><circle cx="645.0" cy="6.7" r="2.3"/><circle cx="644.8" cy="7.2" r="2.3"/><circle cx="644.9" cy="7.7" r="2.3"/><circle cx="644.9" cy="8.2" r="2.3"/><circle cx="644.2" cy="8.7" r="2.3"/><circle cx="644.1" cy="9.3" r="2.3"/><circle cx="644.8" cy="9.8" r="2.3"/><circle cx="644.2" cy="10.3" r="2.3"/><circle cx="644.0" cy="10.8" r="2.3"/><circle cx="644.7" cy="11.3" r="2.3"/><circle cx="644.1" cy="11.8" r="2.3"/><circle cx="644.3" cy="12.3" r="2.3"/><circle cx="643.8" cy="12.8" r="2.3"/><circle cx="643.9" cy="13.3" r="2.3"/><circle cx="643.2" cy="13.8" r="2.3"/><circle cx="643.6" cy="14.3" r="2.3"/><circle cx="643.7" cy="14.9" r="2.3"/><circle cx="643.2" cy="15.4" r="2.3"/><circle cx="643.2" cy="15.9" r="2.3"/><circle cx="643.0" cy="16.4" r="2.3"/><circle cx="642.2" cy="16.9" r="2.3"/><circle cx="642.8" cy="17.4" r="2.3"/><circle cx="642.4" cy="17.9" r="2.3"/><circle cx="641.9" cy="18.4" r="2.3"/><circle cx="641.5" cy="18.9" r="2.3"/><circle cx="642.1" cy="19.4" r="2.3"/><circle cx="641.5" cy="19.9" r="2.3"/><circle cx="641.6" cy="20.5" r="2.3"/><circle cx="641.5" cy="21.0" r="2.3"/><circle cx="641.1" cy="21.5" r="2.3"/><circle cx="641.1" cy="22.0" r="2.3"/><circle cx="640.3" cy="22.5" r="2.3"/><circle cx="640.5" cy="23.0" r="2.3"/></g>
<rect x="464.55" y="1.75" width="187.4" height="115.65" fill="none" stroke="#2a2a2a" stroke-width="1.4"/>
<g fill="#000"><circle cx="290.9" cy="228.3" r="2.3"/><circle cx="324.6" cy="208.1" r="2.3"/><circle cx="324.4" cy="208.4" r="2.3"/><circle cx="326.9" cy="206.9" r="2.3"/><circle cx="327.5" cy="206.3" r="2.3"/><circle cx="325.1" cy="205.4" r="2.3"/><circle cx="330.0" cy="204.9" r="2.3"/><circle cx="323.8" cy="208.8" r="2.3"/><circle cx="323.6" cy="207.7" r="2.3"/><circle cx="320.1" cy="211.8" r="2.3"/><circle cx="320.5" cy="210.9" r="2.3"/><circle cx="315.6" cy="214.4" r="2.3"/><circle cx="312.4" cy="216.4" r="2.3"/><circle cx="315.0" cy="214.7" r="2.3"/><circle cx="308.4" cy="215.3" r="2.3"/><circle cx="314.8" cy="215.7" r="2.3"/><circle cx="314.0" cy="215.1" r="2.3"/><circle cx="306.2" cy="218.8" r="2.3"/><circle cx="308.5" cy="218.1" r="2.3"/><circle cx="312.1" cy="216.2" r="2.3"/><circle cx="308.2" cy="217.6" r="2.3"/><circle cx="314.7" cy="215.2" r="2.3"/><circle cx="311.3" cy="216.3" r="2.3"/><circle cx="324.7" cy="207.6" r="2.3"/><circle cx="330.0" cy="204.8" r="2.3"/><circle cx="333.6" cy="202.9" r="2.3"/><circle cx="337.1" cy="200.6" r="2.3"/><circle cx="331.1" cy="204.9" r="2.3"/><circle cx="331.1" cy="204.3" r="2.3"/><circle cx="338.4" cy="199.9" r="2.3"/><circle cx="334.0" cy="203.5" r="2.3"/><circle cx="332.7" cy="203.3" r="2.3"/><circle cx="331.0" cy="204.3" r="2.3"/><circle cx="332.0" cy="205.5" r="2.3"/><circle cx="328.0" cy="206.1" r="2.3"/><circle cx="328.3" cy="206.2" r="2.3"/><circle cx="339.9" cy="198.9" r="2.3"/><circle cx="337.9" cy="200.4" r="2.3"/><circle cx="338.3" cy="200.2" r="2.3"/><circle cx="343.1" cy="197.5" r="2.3"/><circle cx="344.1" cy="196.0" r="2.3"/><circle cx="342.8" cy="196.5" r="2.3"/><circle cx="392.0" cy="166.3" r="2.3"/><circle cx="389.5" cy="167.3" r="2.3"/><circle cx="376.8" cy="175.3" r="2.3"/><circle cx="372.9" cy="178.2" r="2.3"/><circle cx="378.1" cy="174.8" r="2.3"/><circle cx="377.1" cy="173.8" r="2.3"/><circle cx="383.8" cy="171.4" r="2.3"/><circle cx="385.4" cy="170.4" r="2.3"/><circle cx="365.1" cy="183.1" r="2.3"/><circle cx="364.3" cy="184.1" r="2.3"/><circle cx="360.3" cy="186.3" r="2.3"/><circle cx="353.5" cy="190.0" r="2.3"/><circle cx="353.5" cy="192.2" r="2.3"/><circle cx="346.1" cy="195.4" r="2.3"/><circle cx="343.5" cy="197.4" r="2.3"/><circle cx="337.6" cy="199.8" r="2.3"/><circle cx="333.7" cy="202.8" r="2.3"/><circle cx="332.7" cy="203.6" r="2.3"/><circle cx="330.3" cy="204.8" r="2.3"/><circle cx="335.4" cy="203.6" r="2.3"/><circle cx="342.7" cy="197.4" r="2.3"/><circle cx="338.5" cy="199.8" r="2.3"/><circle cx="333.8" cy="203.2" r="2.3"/><circle cx="334.2" cy="202.7" r="2.3"/><circle cx="331.0" cy="204.2" r="2.3"/><circle cx="328.6" cy="203.2" r="2.3"/><circle cx="337.9" cy="200.3" r="2.3"/><circle cx="338.9" cy="201.3" r="2.3"/><circle cx="347.8" cy="193.9" r="2.3"/><circle cx="346.5" cy="194.9" r="2.3"/><circle cx="359.9" cy="186.6" r="2.3"/><circle cx="354.7" cy="189.0" r="2.3"/><circle cx="351.9" cy="191.5" r="2.3"/><circle cx="341.4" cy="195.9" r="2.3"/><circle cx="340.2" cy="198.8" r="2.3"/><circle cx="365.8" cy="183.6" r="2.3"/><circle cx="367.9" cy="181.2" r="2.3"/><circle cx="364.8" cy="183.6" r="2.3"/><circle cx="366.1" cy="182.7" r="2.3"/><circle cx="360.2" cy="186.1" r="2.3"/><circle cx="373.2" cy="181.2" r="2.3"/><circle cx="371.1" cy="178.7" r="2.3"/><circle cx="370.5" cy="180.7" r="2.3"/><circle cx="365.0" cy="182.7" r="2.3"/><circle cx="373.0" cy="177.3" r="2.3"/><circle cx="370.0" cy="179.7" r="2.3"/><circle cx="376.1" cy="176.3" r="2.3"/><circle cx="367.6" cy="181.7" r="2.3"/><circle cx="373.1" cy="178.2" r="2.3"/><circle cx="356.3" cy="188.2" r="2.3"/><circle cx="355.9" cy="189.5" r="2.3"/><circle cx="354.9" cy="188.0" r="2.3"/><circle cx="361.2" cy="186.1" r="2.3"/><circle cx="356.5" cy="188.5" r="2.3"/><circle cx="348.2" cy="193.4" r="2.3"/><circle cx="345.6" cy="194.9" r="2.3"/><circle cx="338.3" cy="198.8" r="2.3"/><circle cx="336.4" cy="200.8" r="2.3"/><circle cx="336.2" cy="199.9" r="2.3"/><circle cx="395.4" cy="164.4" r="2.3"/><circle cx="398.7" cy="163.9" r="2.3"/><circle cx="397.1" cy="163.4" r="2.3"/><circle cx="392.3" cy="163.0" r="2.3"/><circle cx="400.7" cy="163.0" r="2.3"/><circle cx="390.5" cy="167.4" r="2.3"/><circle cx="388.0" cy="168.8" r="2.3"/><circle cx="390.0" cy="167.9" r="2.3"/><circle cx="383.9" cy="170.8" r="2.3"/><circle cx="385.1" cy="170.8" r="2.3"/><circle cx="385.9" cy="170.3" r="2.3"/><circle cx="387.8" cy="169.1" r="2.3"/><circle cx="394.2" cy="165.4" r="2.3"/><circle cx="389.4" cy="167.9" r="2.3"/><circle cx="387.1" cy="169.3" r="2.3"/><circle cx="383.0" cy="172.3" r="2.3"/><circle cx="379.2" cy="174.2" r="2.3"/><circle cx="378.1" cy="175.2" r="2.3"/><circle cx="379.4" cy="173.7" r="2.3"/><circle cx="377.5" cy="175.2" r="2.3"/><circle cx="373.4" cy="178.1" r="2.3"/><circle cx="373.6" cy="178.1" r="2.3"/><circle cx="366.1" cy="180.6" r="2.3"/><circle cx="368.2" cy="181.6" r="2.3"/><circle cx="362.8" cy="184.3" r="2.3"/><circle cx="363.7" cy="184.3" r="2.3"/><circle cx="350.0" cy="192.4" r="2.3"/><circle cx="345.4" cy="195.0" r="2.3"/><circle cx="365.2" cy="183.0" r="2.3"/><circle cx="368.9" cy="180.6" r="2.3"/><circle cx="372.5" cy="179.1" r="2.3"/><circle cx="375.3" cy="176.2" r="2.3"/><circle cx="383.7" cy="171.8" r="2.3"/><circle cx="386.9" cy="169.3" r="2.3"/><circle cx="383.6" cy="171.8" r="2.3"/><circle cx="391.2" cy="164.9" r="2.3"/><circle cx="393.3" cy="164.4" r="2.3"/><circle cx="388.1" cy="168.3" r="2.3"/><circle cx="393.5" cy="165.4" r="2.3"/><circle cx="395.1" cy="164.4" r="2.3"/><circle cx="399.2" cy="162.5" r="2.3"/><circle cx="376.3" cy="176.2" r="2.3"/><circle cx="375.6" cy="176.7" r="2.3"/><circle cx="376.7" cy="176.2" r="2.3"/><circle cx="378.3" cy="175.2" r="2.3"/><circle cx="374.1" cy="175.7" r="2.3"/><circle cx="367.8" cy="179.1" r="2.3"/><circle cx="371.9" cy="178.6" r="2.3"/><circle cx="367.0" cy="179.6" r="2.3"/><circle cx="367.5" cy="181.6" r="2.3"/><circle cx="366.7" cy="182.6" r="2.3"/><circle cx="363.6" cy="184.0" r="2.3"/><circle cx="360.7" cy="186.0" r="2.3"/><circle cx="356.3" cy="188.4" r="2.3"/><circle cx="355.1" cy="188.9" r="2.3"/><circle cx="360.7" cy="185.5" r="2.3"/><circle cx="356.9" cy="188.0" r="2.3"/><circle cx="349.1" cy="193.3" r="2.3"/><circle cx="399.1" cy="161.0" r="2.3"/><circle cx="400.6" cy="161.0" r="2.3"/><circle cx="402.6" cy="161.0" r="2.3"/><circle cx="402.9" cy="161.5" r="2.3"/><circle cx="399.2" cy="161.5" r="2.3"/><circle cx="422.1" cy="147.6" r="2.3"/><circle cx="415.4" cy="152.2" r="2.3"/><circle cx="413.7" cy="153.4" r="2.3"/><circle cx="407.1" cy="155.4" r="2.3"/><circle cx="408.8" cy="155.9" r="2.3"/><circle cx="405.6" cy="157.9" r="2.3"/><circle cx="402.1" cy="160.3" r="2.3"/><circle cx="402.7" cy="159.8" r="2.3"/><circle cx="406.2" cy="159.8" r="2.3"/><circle cx="404.8" cy="158.3" r="2.3"/><circle cx="408.9" cy="154.4" r="2.3"/><circle cx="407.2" cy="156.9" r="2.3"/><circle cx="404.5" cy="158.8" r="2.3"/><circle cx="408.2" cy="156.1" r="2.3"/><circle cx="402.8" cy="159.8" r="2.3"/><circle cx="399.9" cy="161.5" r="2.3"/><circle cx="395.0" cy="163.7" r="2.3"/><circle cx="395.8" cy="163.7" r="2.3"/><circle cx="395.6" cy="163.2" r="2.3"/><circle cx="396.8" cy="161.8" r="2.3"/><circle cx="396.8" cy="162.8" r="2.3"/><circle cx="394.6" cy="162.8" r="2.3"/><circle cx="396.9" cy="164.7" r="2.3"/><circle cx="394.7" cy="164.7" r="2.3"/><circle cx="395.1" cy="164.7" r="2.3"/><circle cx="402.0" cy="160.8" r="2.3"/><circle cx="363.9" cy="183.7" r="2.3"/><circle cx="365.9" cy="182.6" r="2.3"/><circle cx="372.2" cy="178.9" r="2.3"/><circle cx="376.9" cy="176.7" r="2.3"/><circle cx="346.6" cy="194.0" r="2.3"/><circle cx="341.5" cy="197.3" r="2.3"/><circle cx="353.5" cy="190.6" r="2.3"/><circle cx="375.2" cy="177.0" r="2.3"/><circle cx="383.4" cy="171.5" r="2.3"/><circle cx="394.8" cy="164.6" r="2.3"/><circle cx="368.3" cy="181.1" r="2.3"/><circle cx="359.8" cy="186.2" r="2.3"/><circle cx="360.8" cy="185.8" r="2.3"/><circle cx="366.1" cy="181.1" r="2.3"/><circle cx="369.9" cy="180.4" r="2.3"/><circle cx="438.5" cy="137.4" r="2.3"/><circle cx="430.9" cy="141.9" r="2.3"/><circle cx="435.8" cy="140.0" r="2.3"/><circle cx="431.0" cy="142.3" r="2.3"/><circle cx="428.8" cy="143.5" r="2.3"/><circle cx="428.3" cy="143.6" r="2.3"/><circle cx="423.4" cy="146.9" r="2.3"/><circle cx="419.9" cy="148.2" r="2.3"/><circle cx="418.8" cy="149.0" r="2.3"/><circle cx="416.8" cy="150.6" r="2.3"/><circle cx="417.9" cy="150.0" r="2.3"/><circle cx="415.3" cy="152.3" r="2.3"/><circle cx="412.2" cy="154.0" r="2.3"/><circle cx="415.1" cy="152.4" r="2.3"/><circle cx="416.5" cy="151.5" r="2.3"/><circle cx="416.9" cy="150.6" r="2.3"/><circle cx="413.2" cy="154.0" r="2.3"/><circle cx="413.2" cy="154.2" r="2.3"/><circle cx="409.4" cy="155.1" r="2.3"/><circle cx="404.1" cy="158.7" r="2.3"/><circle cx="403.6" cy="159.2" r="2.3"/><circle cx="408.0" cy="156.5" r="2.3"/><circle cx="400.6" cy="158.7" r="2.3"/><circle cx="407.0" cy="156.9" r="2.3"/><circle cx="401.2" cy="160.1" r="2.3"/><circle cx="403.6" cy="159.6" r="2.3"/><circle cx="410.1" cy="155.1" r="2.3"/><circle cx="406.7" cy="157.8" r="2.3"/><circle cx="399.4" cy="161.4" r="2.3"/><circle cx="403.8" cy="160.1" r="2.3"/><circle cx="432.6" cy="141.1" r="2.3"/><circle cx="434.5" cy="139.9" r="2.3"/><circle cx="428.3" cy="144.0" r="2.3"/><circle cx="430.2" cy="143.4" r="2.3"/><circle cx="424.4" cy="146.3" r="2.3"/><circle cx="424.8" cy="146.9" r="2.3"/><circle cx="419.6" cy="149.2" r="2.3"/><circle cx="417.0" cy="150.4" r="2.3"/><circle cx="415.9" cy="151.6" r="2.3"/><circle cx="413.6" cy="153.3" r="2.3"/><circle cx="412.0" cy="153.9" r="2.3"/><circle cx="415.8" cy="152.1" r="2.3"/><circle cx="413.8" cy="155.6" r="2.3"/><circle cx="407.0" cy="156.5" r="2.3"/><circle cx="408.1" cy="155.9" r="2.3"/><circle cx="424.9" cy="145.3" r="2.3"/><circle cx="431.5" cy="141.7" r="2.3"/><circle cx="422.4" cy="147.9" r="2.3"/><circle cx="420.7" cy="148.5" r="2.3"/><circle cx="447.7" cy="131.7" r="2.3"/><circle cx="446.7" cy="132.2" r="2.3"/><circle cx="446.1" cy="132.7" r="2.3"/><circle cx="445.2" cy="133.2" r="2.3"/><circle cx="444.5" cy="133.7" r="2.3"/><circle cx="443.5" cy="134.2" r="2.3"/><circle cx="443.0" cy="134.8" r="2.3"/><circle cx="442.6" cy="135.3" r="2.3"/><circle cx="441.3" cy="135.8" r="2.3"/><circle cx="440.2" cy="136.3" r="2.3"/><circle cx="439.6" cy="136.8" r="2.3"/><circle cx="438.8" cy="137.3" r="2.3"/><circle cx="437.7" cy="137.8" r="2.3"/><circle cx="437.3" cy="138.3" r="2.3"/><circle cx="436.5" cy="138.8" r="2.3"/><circle cx="435.3" cy="139.3" r="2.3"/><circle cx="434.4" cy="139.8" r="2.3"/><circle cx="435.1" cy="140.4" r="2.3"/><circle cx="432.8" cy="140.9" r="2.3"/><circle cx="431.7" cy="141.4" r="2.3"/><circle cx="431.3" cy="141.9" r="2.3"/><circle cx="430.5" cy="142.4" r="2.3"/><circle cx="429.8" cy="142.9" r="2.3"/><circle cx="428.6" cy="143.4" r="2.3"/><circle cx="428.0" cy="143.9" r="2.3"/><circle cx="426.8" cy="144.4" r="2.3"/><circle cx="426.6" cy="144.9" r="2.3"/><circle cx="426.1" cy="145.4" r="2.3"/><circle cx="424.4" cy="146.0" r="2.3"/><circle cx="423.4" cy="146.5" r="2.3"/><circle cx="423.0" cy="147.0" r="2.3"/><circle cx="422.5" cy="147.5" r="2.3"/><circle cx="422.2" cy="148.0" r="2.3"/><circle cx="420.8" cy="148.5" r="2.3"/></g>
<rect x="267.5" y="127.2" width="187.4" height="115.80" fill="none" stroke="#2a2a2a" stroke-width="1.4"/>
<path d="M309.1 243.0v5.3 M267.5 217.3h-5.3 M343.8 243.0v5.3 M267.5 195.8h-5.3 M378.6 243.0v5.3 M267.5 174.4h-5.3 M413.3 243.0v5.3 M267.5 152.9h-5.3" stroke="#2a2a2a" stroke-width="1.4" fill="none"/>
<text transform="translate(310.8 260.5) scale(1.0 1)" text-anchor="middle" class="t">0.2</text>
<text transform="translate(256.0 216.1) rotate(-90) scale(1.0 1)" text-anchor="middle" class="t">0.2</text>
<text transform="translate(345.5 260.5) scale(1.0 1)" text-anchor="middle" class="t">0.4</text>
<text transform="translate(256.0 194.6) rotate(-90) scale(1.0 1)" text-anchor="middle" class="t">0.4</text>
<text transform="translate(380.3 260.5) scale(1.0 1)" text-anchor="middle" class="t">0.6</text>
<text transform="translate(256.0 173.2) rotate(-90) scale(1.0 1)" text-anchor="middle" class="t">0.6</text>
<text transform="translate(415.0 260.5) scale(1.0 1)" text-anchor="middle" class="t">0.8</text>
<text transform="translate(256.0 151.7) rotate(-90) scale(1.0 1)" text-anchor="middle" class="t">0.8</text>
<g fill="#000"><circle cx="487.9" cy="224.9" r="2.3"/><circle cx="609.0" cy="183.2" r="2.3"/><circle cx="611.6" cy="181.1" r="2.3"/><circle cx="615.5" cy="178.5" r="2.3"/><circle cx="605.8" cy="176.3" r="2.3"/><circle cx="570.4" cy="154.9" r="2.3"/><circle cx="564.5" cy="159.4" r="2.3"/><circle cx="503.5" cy="208.0" r="2.3"/><circle cx="504.3" cy="214.6" r="2.3"/><circle cx="504.1" cy="219.0" r="2.3"/><circle cx="633.7" cy="137.9" r="2.3"/><circle cx="633.9" cy="141.9" r="2.3"/><circle cx="620.4" cy="140.1" r="2.3"/><circle cx="620.8" cy="142.5" r="2.3"/><circle cx="611.2" cy="144.4" r="2.3"/><circle cx="614.7" cy="143.8" r="2.3"/><circle cx="600.2" cy="147.4" r="2.3"/><circle cx="628.1" cy="146.8" r="2.3"/><circle cx="614.1" cy="151.1" r="2.3"/><circle cx="617.1" cy="149.3" r="2.3"/><circle cx="620.2" cy="149.9" r="2.3"/><circle cx="625.1" cy="154.2" r="2.3"/><circle cx="629.4" cy="152.3" r="2.3"/><circle cx="633.0" cy="150.5" r="2.3"/><circle cx="636.7" cy="151.7" r="2.3"/><circle cx="638.6" cy="154.8" r="2.3"/><circle cx="634.3" cy="153.6" r="2.3"/><circle cx="631.8" cy="155.4" r="2.3"/><circle cx="633.7" cy="159.1" r="2.3"/><circle cx="631.8" cy="161.5" r="2.3"/><circle cx="625.9" cy="159.7" r="2.3"/><circle cx="628.4" cy="164.6" r="2.3"/><circle cx="619.0" cy="156.6" r="2.3"/><circle cx="621.4" cy="158.5" r="2.3"/><circle cx="613.4" cy="158.5" r="2.3"/><circle cx="607.3" cy="158.5" r="2.3"/><circle cx="611.0" cy="161.5" r="2.3"/><circle cx="615.9" cy="161.5" r="2.3"/><circle cx="618.3" cy="162.8" r="2.3"/><circle cx="622.0" cy="165.2" r="2.3"/><circle cx="616.5" cy="165.8" r="2.3"/><circle cx="608.5" cy="165.8" r="2.3"/><circle cx="617.1" cy="168.9" r="2.3"/><circle cx="602.4" cy="153.2" r="2.3"/><circle cx="600.9" cy="159.7" r="2.3"/><circle cx="593.2" cy="152.3" r="2.3"/><circle cx="588.9" cy="155.0" r="2.3"/><circle cx="595.1" cy="155.4" r="2.3"/><circle cx="592.0" cy="158.1" r="2.3"/><circle cx="582.2" cy="154.4" r="2.3"/><circle cx="579.1" cy="156.6" r="2.3"/><circle cx="582.8" cy="159.1" r="2.3"/><circle cx="606.1" cy="169.5" r="2.3"/><circle cx="609.2" cy="172.0" r="2.3"/><circle cx="605.5" cy="173.2" r="2.3"/><circle cx="630.6" cy="150.5" r="2.3"/><circle cx="628.1" cy="154.8" r="2.3"/><circle cx="635.5" cy="155.4" r="2.3"/><circle cx="631.2" cy="152.3" r="2.3"/><circle cx="638.0" cy="149.3" r="2.3"/><circle cx="639.8" cy="146.8" r="2.3"/><circle cx="636.7" cy="145.6" r="2.3"/><circle cx="634.9" cy="143.2" r="2.3"/><circle cx="638.0" cy="143.2" r="2.3"/><circle cx="636.1" cy="140.7" r="2.3"/><circle cx="639.8" cy="140.7" r="2.3"/><circle cx="645.1" cy="131.5" r="2.3"/><circle cx="644.8" cy="132.1" r="2.3"/><circle cx="644.8" cy="132.8" r="2.3"/><circle cx="644.3" cy="133.4" r="2.3"/><circle cx="644.8" cy="134.1" r="2.3"/><circle cx="644.6" cy="134.7" r="2.3"/><circle cx="644.3" cy="135.3" r="2.3"/><circle cx="643.6" cy="136.0" r="2.3"/><circle cx="643.8" cy="136.6" r="2.3"/><circle cx="643.4" cy="137.2" r="2.3"/><circle cx="643.1" cy="137.9" r="2.3"/><circle cx="643.6" cy="138.5" r="2.3"/><circle cx="643.4" cy="139.1" r="2.3"/><circle cx="642.2" cy="139.8" r="2.3"/><circle cx="642.7" cy="140.4" r="2.3"/><circle cx="642.2" cy="141.0" r="2.3"/><circle cx="641.6" cy="141.7" r="2.3"/><circle cx="641.2" cy="142.3" r="2.3"/><circle cx="641.3" cy="142.9" r="2.3"/><circle cx="640.7" cy="143.6" r="2.3"/><circle cx="640.6" cy="144.1" r="2.3"/><circle cx="640.2" cy="144.6" r="2.3"/><circle cx="639.3" cy="145.1" r="2.3"/><circle cx="639.6" cy="145.6" r="2.3"/><circle cx="639.5" cy="146.1" r="2.3"/><circle cx="639.0" cy="146.6" r="2.3"/><circle cx="638.2" cy="147.2" r="2.3"/><circle cx="637.2" cy="147.7" r="2.3"/><circle cx="636.7" cy="148.2" r="2.3"/><circle cx="636.4" cy="148.7" r="2.3"/><circle cx="530.0" cy="215.1" r="2.3"/><circle cx="507.2" cy="213.7" r="2.3"/><circle cx="509.4" cy="215.9" r="2.3"/><circle cx="505.7" cy="211.5" r="2.3"/><circle cx="510.9" cy="207.1" r="2.3"/><circle cx="516.8" cy="203.4" r="2.3"/><circle cx="518.2" cy="207.1" r="2.3"/><circle cx="521.2" cy="200.4" r="2.3"/><circle cx="523.4" cy="198.2" r="2.3"/><circle cx="527.8" cy="204.1" r="2.3"/><circle cx="532.9" cy="206.3" r="2.3"/><circle cx="534.4" cy="200.4" r="2.3"/><circle cx="540.3" cy="199.0" r="2.3"/><circle cx="530.7" cy="194.6" r="2.3"/><circle cx="533.7" cy="193.1" r="2.3"/><circle cx="524.9" cy="197.5" r="2.3"/><circle cx="514.6" cy="195.3" r="2.3"/><circle cx="516.0" cy="191.6" r="2.3"/><circle cx="520.9" cy="190.1" r="2.3"/><circle cx="524.1" cy="186.5" r="2.3"/><circle cx="526.8" cy="183.8" r="2.3"/><circle cx="535.1" cy="178.4" r="2.3"/><circle cx="535.1" cy="183.5" r="2.3"/><circle cx="535.9" cy="188.7" r="2.3"/><circle cx="539.6" cy="181.3" r="2.3"/><circle cx="541.8" cy="184.3" r="2.3"/><circle cx="540.3" cy="190.9" r="2.3"/><circle cx="537.4" cy="193.1" r="2.3"/><circle cx="544.0" cy="175.4" r="2.3"/><circle cx="544.0" cy="186.5" r="2.3"/><circle cx="547.6" cy="182.1" r="2.3"/><circle cx="549.9" cy="175.4" r="2.3"/><circle cx="550.6" cy="180.6" r="2.3"/><circle cx="552.1" cy="165.9" r="2.3"/><circle cx="552.1" cy="187.2" r="2.3"/><circle cx="554.3" cy="189.4" r="2.3"/><circle cx="552.1" cy="195.3" r="2.3"/><circle cx="552.1" cy="199.0" r="2.3"/><circle cx="560.9" cy="201.2" r="2.3"/><circle cx="569.0" cy="193.8" r="2.3"/><circle cx="572.6" cy="189.4" r="2.3"/><circle cx="569.0" cy="185.0" r="2.3"/><circle cx="565.3" cy="188.7" r="2.3"/><circle cx="560.9" cy="187.2" r="2.3"/><circle cx="561.6" cy="183.5" r="2.3"/><circle cx="556.5" cy="182.1" r="2.3"/><circle cx="555.0" cy="174.7" r="2.3"/><circle cx="557.9" cy="178.4" r="2.3"/><circle cx="563.1" cy="178.4" r="2.3"/><circle cx="566.8" cy="180.6" r="2.3"/><circle cx="568.2" cy="176.9" r="2.3"/><circle cx="563.8" cy="174.7" r="2.3"/><circle cx="559.4" cy="166.6" r="2.3"/><circle cx="560.9" cy="171.0" r="2.3"/><circle cx="560.1" cy="161.5" r="2.3"/><circle cx="566.0" cy="164.4" r="2.3"/><circle cx="569.7" cy="165.9" r="2.3"/><circle cx="566.8" cy="169.6" r="2.3"/><circle cx="571.2" cy="170.3" r="2.3"/><circle cx="571.9" cy="162.9" r="2.3"/><circle cx="576.3" cy="168.1" r="2.3"/><circle cx="578.5" cy="162.9" r="2.3"/><circle cx="580.7" cy="167.4" r="2.3"/><circle cx="584.4" cy="168.8" r="2.3"/><circle cx="574.1" cy="174.7" r="2.3"/><circle cx="577.1" cy="171.8" r="2.3"/><circle cx="579.3" cy="175.4" r="2.3"/><circle cx="574.9" cy="179.1" r="2.3"/><circle cx="582.2" cy="184.3" r="2.3"/><circle cx="585.1" cy="192.4" r="2.3"/><circle cx="594.7" cy="195.3" r="2.3"/><circle cx="588.8" cy="184.3" r="2.3"/><circle cx="589.6" cy="178.4" r="2.3"/><circle cx="593.2" cy="181.3" r="2.3"/><circle cx="595.4" cy="182.1" r="2.3"/><circle cx="590.3" cy="174.7" r="2.3"/><circle cx="596.2" cy="174.7" r="2.3"/><circle cx="599.9" cy="177.6" r="2.3"/><circle cx="600.6" cy="172.5" r="2.3"/><circle cx="594.7" cy="169.6" r="2.3"/><circle cx="590.3" cy="167.4" r="2.3"/><circle cx="593.2" cy="165.9" r="2.3"/><circle cx="599.1" cy="167.4" r="2.3"/><circle cx="549.1" cy="178.4" r="2.3"/><circle cx="553.5" cy="177.6" r="2.3"/><circle cx="546.2" cy="179.9" r="2.3"/><circle cx="555.7" cy="179.9" r="2.3"/><circle cx="560.1" cy="175.4" r="2.3"/><circle cx="565.3" cy="171.8" r="2.3"/><circle cx="568.2" cy="168.1" r="2.3"/><circle cx="563.1" cy="167.4" r="2.3"/><circle cx="544.7" cy="182.1" r="2.3"/><circle cx="538.1" cy="185.7" r="2.3"/><circle cx="532.2" cy="196.8" r="2.3"/><circle cx="522.6" cy="202.6" r="2.3"/><circle cx="507.9" cy="218.1" r="2.3"/><circle cx="565.3" cy="185.0" r="2.3"/><circle cx="558.7" cy="185.0" r="2.3"/></g>
<rect x="464.55" y="127.2" width="187.4" height="115.80" fill="none" stroke="#2a2a2a" stroke-width="1.4"/>
<g fill="#000"><circle cx="488.6" cy="350.8" r="2.3"/><circle cx="609.2" cy="308.0" r="2.3"/><circle cx="611.6" cy="306.0" r="2.3"/><circle cx="614.3" cy="304.5" r="2.3"/><circle cx="604.4" cy="302.9" r="2.3"/><circle cx="568.3" cy="281.0" r="2.3"/><circle cx="500.7" cy="344.5" r="2.3"/><circle cx="503.8" cy="333.7" r="2.3"/><circle cx="633.9" cy="263.6" r="2.3"/><circle cx="633.9" cy="267.9" r="2.3"/><circle cx="619.6" cy="265.5" r="2.3"/><circle cx="619.8" cy="267.9" r="2.3"/><circle cx="612.2" cy="269.2" r="2.3"/><circle cx="612.8" cy="270.4" r="2.3"/><circle cx="605.1" cy="273.1" r="2.3"/><circle cx="626.3" cy="272.2" r="2.3"/><circle cx="615.9" cy="275.9" r="2.3"/><circle cx="620.2" cy="275.3" r="2.3"/><circle cx="617.1" cy="278.3" r="2.3"/><circle cx="624.5" cy="279.6" r="2.3"/><circle cx="628.8" cy="280.2" r="2.3"/><circle cx="633.7" cy="278.3" r="2.3"/><circle cx="638.0" cy="279.6" r="2.3"/><circle cx="631.8" cy="274.7" r="2.3"/><circle cx="636.1" cy="276.5" r="2.3"/><circle cx="633.7" cy="285.1" r="2.3"/><circle cx="633.0" cy="286.9" r="2.3"/><circle cx="625.7" cy="284.8" r="2.3"/><circle cx="628.8" cy="290.0" r="2.3"/><circle cx="619.0" cy="282.6" r="2.3"/><circle cx="614.7" cy="283.6" r="2.3"/><circle cx="620.2" cy="284.5" r="2.3"/><circle cx="611.0" cy="286.9" r="2.3"/><circle cx="615.9" cy="288.8" r="2.3"/><circle cx="616.5" cy="291.2" r="2.3"/><circle cx="610.4" cy="291.2" r="2.3"/><circle cx="621.4" cy="290.6" r="2.3"/><circle cx="619.6" cy="294.3" r="2.3"/><circle cx="605.8" cy="284.1" r="2.3"/><circle cx="599.7" cy="279.0" r="2.3"/><circle cx="593.8" cy="277.7" r="2.3"/><circle cx="593.2" cy="281.4" r="2.3"/><circle cx="588.9" cy="282.0" r="2.3"/><circle cx="585.3" cy="280.4" r="2.3"/><circle cx="578.1" cy="282.0" r="2.3"/><circle cx="605.5" cy="294.9" r="2.3"/><circle cx="611.0" cy="296.7" r="2.3"/><circle cx="605.5" cy="299.2" r="2.3"/><circle cx="634.3" cy="276.5" r="2.3"/><circle cx="636.7" cy="278.3" r="2.3"/><circle cx="631.8" cy="277.7" r="2.3"/><circle cx="634.3" cy="280.8" r="2.3"/><circle cx="630.6" cy="281.4" r="2.3"/><circle cx="636.7" cy="281.4" r="2.3"/><circle cx="632.4" cy="283.9" r="2.3"/><circle cx="634.9" cy="273.4" r="2.3"/><circle cx="638.0" cy="276.5" r="2.3"/><circle cx="631.2" cy="275.3" r="2.3"/><circle cx="639.2" cy="274.7" r="2.3"/><circle cx="637.3" cy="272.2" r="2.3"/><circle cx="645.0" cy="257.5" r="2.3"/><circle cx="644.8" cy="258.1" r="2.3"/><circle cx="644.4" cy="258.8" r="2.3"/><circle cx="644.7" cy="259.4" r="2.3"/><circle cx="643.9" cy="260.1" r="2.3"/><circle cx="644.0" cy="260.7" r="2.3"/><circle cx="644.2" cy="261.3" r="2.3"/><circle cx="643.3" cy="262.0" r="2.3"/><circle cx="643.5" cy="262.6" r="2.3"/><circle cx="643.3" cy="263.2" r="2.3"/><circle cx="642.6" cy="263.9" r="2.3"/><circle cx="642.7" cy="264.5" r="2.3"/><circle cx="642.7" cy="265.1" r="2.3"/><circle cx="642.2" cy="265.8" r="2.3"/><circle cx="642.2" cy="266.4" r="2.3"/><circle cx="641.4" cy="267.0" r="2.3"/><circle cx="641.2" cy="267.7" r="2.3"/><circle cx="640.8" cy="268.3" r="2.3"/><circle cx="640.8" cy="268.9" r="2.3"/><circle cx="640.8" cy="269.6" r="2.3"/><circle cx="640.3" cy="270.2" r="2.3"/><circle cx="640.1" cy="270.8" r="2.3"/><circle cx="639.5" cy="271.5" r="2.3"/><circle cx="639.5" cy="272.1" r="2.3"/><circle cx="638.7" cy="272.7" r="2.3"/><circle cx="638.5" cy="273.3" r="2.3"/><circle cx="638.5" cy="273.8" r="2.3"/><circle cx="638.2" cy="274.3" r="2.3"/><circle cx="637.6" cy="274.8" r="2.3"/><circle cx="637.0" cy="275.3" r="2.3"/><circle cx="550.6" cy="301.9" r="2.3"/><circle cx="556.5" cy="303.4" r="2.3"/><circle cx="557.9" cy="307.1" r="2.3"/><circle cx="561.6" cy="302.6" r="2.3"/><circle cx="565.3" cy="304.1" r="2.3"/><circle cx="565.3" cy="308.5" r="2.3"/><circle cx="569.7" cy="304.1" r="2.3"/><circle cx="570.4" cy="307.1" r="2.3"/><circle cx="560.9" cy="310.0" r="2.3"/><circle cx="566.8" cy="311.5" r="2.3"/><circle cx="555.0" cy="310.7" r="2.3"/><circle cx="529.3" cy="317.4" r="2.3"/><circle cx="530.7" cy="321.0" r="2.3"/><circle cx="534.4" cy="318.1" r="2.3"/><circle cx="536.6" cy="318.1" r="2.3"/><circle cx="527.1" cy="321.8" r="2.3"/><circle cx="541.0" cy="315.1" r="2.3"/><circle cx="544.0" cy="310.0" r="2.3"/><circle cx="540.3" cy="307.1" r="2.3"/><circle cx="571.2" cy="290.9" r="2.3"/><circle cx="574.1" cy="292.4" r="2.3"/><circle cx="577.8" cy="290.9" r="2.3"/><circle cx="569.7" cy="291.6" r="2.3"/><circle cx="566.0" cy="293.1" r="2.3"/><circle cx="591.0" cy="296.8" r="2.3"/><circle cx="594.7" cy="299.0" r="2.3"/><circle cx="597.6" cy="301.2" r="2.3"/><circle cx="591.0" cy="302.6" r="2.3"/><circle cx="596.9" cy="294.6" r="2.3"/><circle cx="507.9" cy="341.6" r="2.3"/><circle cx="510.9" cy="341.6" r="2.3"/><circle cx="530.7" cy="340.9" r="2.3"/><circle cx="513.1" cy="340.9" r="2.3"/><circle cx="508.7" cy="339.4" r="2.3"/><circle cx="506.5" cy="337.2" r="2.3"/><circle cx="514.6" cy="334.3" r="2.3"/><circle cx="519.7" cy="332.1" r="2.3"/><circle cx="523.4" cy="329.9" r="2.3"/><circle cx="527.8" cy="329.9" r="2.3"/><circle cx="534.4" cy="331.8" r="2.3"/><circle cx="522.6" cy="325.4" r="2.3"/><circle cx="524.9" cy="322.5" r="2.3"/><circle cx="528.5" cy="319.6" r="2.3"/><circle cx="533.7" cy="326.2" r="2.3"/><circle cx="538.8" cy="324.4" r="2.3"/><circle cx="538.1" cy="321.0" r="2.3"/><circle cx="532.2" cy="316.6" r="2.3"/><circle cx="524.1" cy="315.9" r="2.3"/><circle cx="516.8" cy="318.1" r="2.3"/><circle cx="517.5" cy="321.0" r="2.3"/><circle cx="524.1" cy="309.3" r="2.3"/><circle cx="526.3" cy="312.2" r="2.3"/><circle cx="535.1" cy="314.4" r="2.3"/><circle cx="538.1" cy="309.3" r="2.3"/><circle cx="541.0" cy="304.1" r="2.3"/><circle cx="542.5" cy="307.1" r="2.3"/><circle cx="546.9" cy="308.5" r="2.3"/><circle cx="544.7" cy="312.2" r="2.3"/><circle cx="542.5" cy="316.6" r="2.3"/><circle cx="540.3" cy="318.1" r="2.3"/><circle cx="552.1" cy="324.4" r="2.3"/><circle cx="555.0" cy="320.3" r="2.3"/><circle cx="558.7" cy="326.9" r="2.3"/><circle cx="552.8" cy="313.7" r="2.3"/><circle cx="555.7" cy="315.1" r="2.3"/><circle cx="558.7" cy="312.2" r="2.3"/><circle cx="563.8" cy="312.2" r="2.3"/><circle cx="569.0" cy="319.1" r="2.3"/><circle cx="569.0" cy="314.4" r="2.3"/><circle cx="569.7" cy="310.0" r="2.3"/><circle cx="576.3" cy="314.7" r="2.3"/><circle cx="582.2" cy="309.7" r="2.3"/><circle cx="585.9" cy="318.1" r="2.3"/><circle cx="592.5" cy="320.6" r="2.3"/><circle cx="588.8" cy="310.0" r="2.3"/><circle cx="592.5" cy="307.1" r="2.3"/><circle cx="588.8" cy="304.1" r="2.3"/><circle cx="575.6" cy="304.1" r="2.3"/><circle cx="571.9" cy="301.2" r="2.3"/><circle cx="566.8" cy="305.6" r="2.3"/><circle cx="563.1" cy="307.8" r="2.3"/><circle cx="560.1" cy="304.9" r="2.3"/><circle cx="555.7" cy="307.8" r="2.3"/><circle cx="552.1" cy="304.1" r="2.3"/><circle cx="548.4" cy="300.4" r="2.3"/><circle cx="554.3" cy="300.4" r="2.3"/><circle cx="558.7" cy="299.7" r="2.3"/><circle cx="563.8" cy="301.9" r="2.3"/><circle cx="568.2" cy="301.9" r="2.3"/><circle cx="562.4" cy="297.5" r="2.3"/><circle cx="568.2" cy="295.3" r="2.3"/><circle cx="573.4" cy="296.0" r="2.3"/><circle cx="578.5" cy="294.6" r="2.3"/><circle cx="581.5" cy="294.6" r="2.3"/><circle cx="561.6" cy="291.6" r="2.3"/><circle cx="563.8" cy="289.4" r="2.3"/><circle cx="552.1" cy="291.6" r="2.3"/><circle cx="555.7" cy="287.2" r="2.3"/><circle cx="569.0" cy="287.9" r="2.3"/><circle cx="575.6" cy="288.7" r="2.3"/><circle cx="580.0" cy="287.9" r="2.3"/><circle cx="588.1" cy="295.3" r="2.3"/><circle cx="591.8" cy="293.1" r="2.3"/><circle cx="596.9" cy="291.6" r="2.3"/><circle cx="595.4" cy="296.0" r="2.3"/><circle cx="599.1" cy="298.2" r="2.3"/><circle cx="593.2" cy="300.4" r="2.3"/><circle cx="589.6" cy="299.7" r="2.3"/><circle cx="599.9" cy="304.1" r="2.3"/><circle cx="593.2" cy="286.5" r="2.3"/></g>
<rect x="464.55" y="252.8" width="187.4" height="115.90" fill="none" stroke="#2a2a2a" stroke-width="1.4"/>
<path d="M506.2 368.7v5.3 M464.55 342.9h-5.3 M540.9 368.7v5.3 M464.55 321.5h-5.3 M575.6 368.7v5.3 M464.55 300.0h-5.3 M610.3 368.7v5.3 M464.55 278.6h-5.3" stroke="#2a2a2a" stroke-width="1.4" fill="none"/>
<text transform="translate(507.9 386.2) scale(1.0 1)" text-anchor="middle" class="t">0.2</text>
<text transform="translate(453.1 341.7) rotate(-90) scale(1.0 1)" text-anchor="middle" class="t">0.2</text>
<text transform="translate(542.6 386.2) scale(1.0 1)" text-anchor="middle" class="t">0.4</text>
<text transform="translate(453.1 320.3) rotate(-90) scale(1.0 1)" text-anchor="middle" class="t">0.4</text>
<text transform="translate(577.3 386.2) scale(1.0 1)" text-anchor="middle" class="t">0.6</text>
<text transform="translate(453.1 298.8) rotate(-90) scale(1.0 1)" text-anchor="middle" class="t">0.6</text>
<text transform="translate(612.0 386.2) scale(1.0 1)" text-anchor="middle" class="t">0.8</text>
<text transform="translate(453.1 277.4) rotate(-90) scale(1.0 1)" text-anchor="middle" class="t">0.8</text>
<text transform="translate(0.2 67.0) scale(1.04 1)" class="l">Initial</text>
<text transform="translate(159 190.10000000000002) scale(1.04 1)" class="l">Regressed</text>
<text transform="translate(392.5 317.6) scale(1.04 1)" class="l">Direct</text>
<text transform="translate(527.5 408.0) scale(1.04 1)" class="l">Bayesian</text>
</svg>
</body></html>
